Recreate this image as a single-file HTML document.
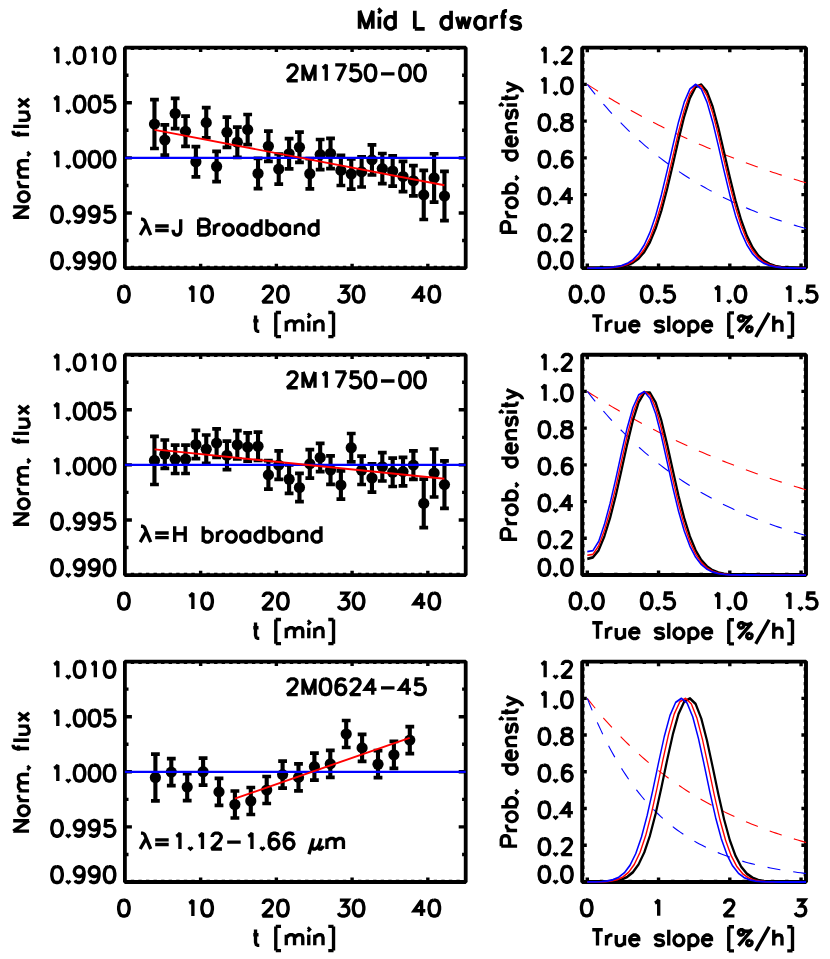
<!DOCTYPE html>
<html lang="en">
<head>
<meta charset="utf-8">
<title>Mid L dwarfs</title>
<style>
html,body{margin:0;padding:0;background:#fff;}
body{font-family:"Liberation Sans",sans-serif;width:830px;height:959px;overflow:hidden;}
svg{display:block;}
</style>
</head>
<body>
<svg width="830" height="959" viewBox="0 0 830 959" role="img" aria-label="Mid L dwarfs: normalized flux vs time light curves and slope probability densities">
<rect width="830" height="959" fill="#fff"/>
<path aria-label="Mid L dwarfs" d="M359.6 10.74 L359.6 28.8 M359.6 10.74 L366.19 28.8 M372.78 10.74 L366.19 28.8 M372.78 10.74 L372.78 28.8 M378.55 10.74 L379.37 11.6 L380.2 10.74 L379.37 9.88 L378.55 10.74 M379.37 16.76 L379.37 28.8 M395.03 10.74 L395.03 28.8 M395.03 19.34 L393.38 17.62 L391.73 16.76 L389.26 16.76 L387.61 17.62 L385.96 19.34 L385.14 21.92 L385.14 23.64 L385.96 26.22 L387.61 27.94 L389.26 28.8 L391.73 28.8 L393.38 27.94 L395.03 26.22 M414.8 10.74 L414.8 28.8 M414.8 28.8 L424.69 28.8 M451.06 10.74 L451.06 28.8 M451.06 19.34 L449.41 17.62 L447.76 16.76 L445.29 16.76 L443.64 17.62 L442 19.34 L441.17 21.92 L441.17 23.64 L442 26.22 L443.64 27.94 L445.29 28.8 L447.76 28.8 L449.41 27.94 L451.06 26.22 M456.83 16.76 L460.12 28.8 M463.42 16.76 L460.12 28.8 M463.42 16.76 L466.72 28.8 M470.01 16.76 L466.72 28.8 M484.84 16.76 L484.84 28.8 M484.84 19.34 L483.2 17.62 L481.55 16.76 L479.08 16.76 L477.43 17.62 L475.78 19.34 L474.96 21.92 L474.96 23.64 L475.78 26.22 L477.43 27.94 L479.08 28.8 L481.55 28.8 L483.2 27.94 L484.84 26.22 M491.44 16.76 L491.44 28.8 M491.44 21.92 L492.26 19.34 L493.91 17.62 L495.56 16.76 L498.03 16.76 M507.09 10.74 L505.44 10.74 L503.8 11.6 L502.97 14.18 L502.97 28.8 M500.5 16.76 L506.27 16.76 M520.28 19.34 L519.45 17.62 L516.98 16.76 L514.51 16.76 L512.04 17.62 L511.21 19.34 L512.04 21.06 L513.68 21.92 L517.8 22.78 L519.45 23.64 L520.28 25.36 L520.28 26.22 L519.45 27.94 L516.98 28.8 L514.51 28.8 L512.04 27.94 L511.21 26.22" fill="none" stroke="#000" stroke-width="3.7" stroke-linecap="butt" stroke-linejoin="miter" stroke-miterlimit="2.5"/>
<g>
<rect x="124.9" y="47.65" width="340.8" height="220.45" fill="none" stroke="#000" stroke-width="3.8" stroke-linejoin="bevel"/>
<path d="M200.63 268.1v-4.4 M200.63 47.65v4.4 M276.37 268.1v-4.4 M276.37 47.65v4.4 M352.1 268.1v-4.4 M352.1 47.65v4.4 M427.83 268.1v-4.4 M427.83 47.65v4.4 M132.47 268.1v-2.35 M132.47 47.65v2.35 M140.05 268.1v-2.35 M140.05 47.65v2.35 M147.62 268.1v-2.35 M147.62 47.65v2.35 M155.19 268.1v-2.35 M155.19 47.65v2.35 M162.77 268.1v-2.35 M162.77 47.65v2.35 M170.34 268.1v-2.35 M170.34 47.65v2.35 M177.91 268.1v-2.35 M177.91 47.65v2.35 M185.49 268.1v-2.35 M185.49 47.65v2.35 M193.06 268.1v-2.35 M193.06 47.65v2.35 M208.21 268.1v-2.35 M208.21 47.65v2.35 M215.78 268.1v-2.35 M215.78 47.65v2.35 M223.35 268.1v-2.35 M223.35 47.65v2.35 M230.93 268.1v-2.35 M230.93 47.65v2.35 M238.5 268.1v-2.35 M238.5 47.65v2.35 M246.07 268.1v-2.35 M246.07 47.65v2.35 M253.65 268.1v-2.35 M253.65 47.65v2.35 M261.22 268.1v-2.35 M261.22 47.65v2.35 M268.79 268.1v-2.35 M268.79 47.65v2.35 M283.94 268.1v-2.35 M283.94 47.65v2.35 M291.51 268.1v-2.35 M291.51 47.65v2.35 M299.09 268.1v-2.35 M299.09 47.65v2.35 M306.66 268.1v-2.35 M306.66 47.65v2.35 M314.23 268.1v-2.35 M314.23 47.65v2.35 M321.81 268.1v-2.35 M321.81 47.65v2.35 M329.38 268.1v-2.35 M329.38 47.65v2.35 M336.95 268.1v-2.35 M336.95 47.65v2.35 M344.53 268.1v-2.35 M344.53 47.65v2.35 M359.67 268.1v-2.35 M359.67 47.65v2.35 M367.25 268.1v-2.35 M367.25 47.65v2.35 M374.82 268.1v-2.35 M374.82 47.65v2.35 M382.39 268.1v-2.35 M382.39 47.65v2.35 M389.97 268.1v-2.35 M389.97 47.65v2.35 M397.54 268.1v-2.35 M397.54 47.65v2.35 M405.11 268.1v-2.35 M405.11 47.65v2.35 M412.69 268.1v-2.35 M412.69 47.65v2.35 M420.26 268.1v-2.35 M420.26 47.65v2.35 M435.41 268.1v-2.35 M435.41 47.65v2.35 M442.98 268.1v-2.35 M442.98 47.65v2.35 M450.55 268.1v-2.35 M450.55 47.65v2.35 M458.13 268.1v-2.35 M458.13 47.65v2.35 M124.9 102.76h7 M465.7 102.76h-7 M124.9 157.88h7 M465.7 157.88h-7 M124.9 212.99h7 M465.7 212.99h-7 M124.9 75.21h3.6 M465.7 75.21h-3.6 M124.9 130.32h3.6 M465.7 130.32h-3.6 M124.9 185.43h3.6 M465.7 185.43h-3.6 M124.9 240.54h3.6 M465.7 240.54h-3.6" stroke="#000" stroke-width="3.4" fill="none"/>
<path d="M154.46 99.7V148.5 M164.82 124.9V155.1 M175.17 98.4V128.6 M185.53 116.2V146.4 M195.89 146.6V176.8 M206.25 107.55V137.75 M216.6 151.35V181.55 M226.96 117.2V147.4 M237.32 127.1V157.3 M247.67 114.5V144.7 M258.03 158.4V188.6 M268.39 131.2V161.4 M278.74 154V184.2 M289.1 138.7V168.9 M299.46 132.2V162.4 M309.81 158.6V188.8 M320.17 139.5V169.7 M330.53 138.4V168.6 M340.89 155.3V185.5 M351.24 158.9V189.1 M361.6 156.8V187 M371.96 144.8V175 M382.31 153.5V183.7 M392.67 155.9V186.1 M403.03 161.4V191.6 M413.38 165.7V195.9 M423.74 170.3V219.5 M434.1 153.75V202.15 M444.46 171.4V220.6" stroke="#000" stroke-width="4.1" fill="none"/>
<path d="M150.06 99.7h8.8 M150.06 148.5h8.8 M160.42 124.9h8.8 M160.42 155.1h8.8 M170.77 98.4h8.8 M170.77 128.6h8.8 M181.13 116.2h8.8 M181.13 146.4h8.8 M191.49 146.6h8.8 M191.49 176.8h8.8 M201.84 107.55h8.8 M201.84 137.75h8.8 M212.2 151.35h8.8 M212.2 181.55h8.8 M222.56 117.2h8.8 M222.56 147.4h8.8 M232.92 127.1h8.8 M232.92 157.3h8.8 M243.27 114.5h8.8 M243.27 144.7h8.8 M253.63 158.4h8.8 M253.63 188.6h8.8 M263.99 131.2h8.8 M263.99 161.4h8.8 M274.34 154h8.8 M274.34 184.2h8.8 M284.7 138.7h8.8 M284.7 168.9h8.8 M295.06 132.2h8.8 M295.06 162.4h8.8 M305.42 158.6h8.8 M305.42 188.8h8.8 M315.77 139.5h8.8 M315.77 169.7h8.8 M326.13 138.4h8.8 M326.13 168.6h8.8 M336.49 155.3h8.8 M336.49 185.5h8.8 M346.84 158.9h8.8 M346.84 189.1h8.8 M357.2 156.8h8.8 M357.2 187h8.8 M367.56 144.8h8.8 M367.56 175h8.8 M377.91 153.5h8.8 M377.91 183.7h8.8 M388.27 155.9h8.8 M388.27 186.1h8.8 M398.63 161.4h8.8 M398.63 191.6h8.8 M408.99 165.7h8.8 M408.99 195.9h8.8 M419.34 170.3h8.8 M419.34 219.5h8.8 M429.7 153.75h8.8 M429.7 202.15h8.8 M440.06 171.4h8.8 M440.06 220.6h8.8" stroke="#000" stroke-width="3.7" fill="none"/>
<circle cx="154.46" cy="124.1" r="5.6"/>
<circle cx="164.82" cy="140" r="5.6"/>
<circle cx="175.17" cy="113.5" r="5.6"/>
<circle cx="185.53" cy="131.3" r="5.6"/>
<circle cx="195.89" cy="161.7" r="5.6"/>
<circle cx="206.25" cy="122.65" r="5.6"/>
<circle cx="216.6" cy="166.45" r="5.6"/>
<circle cx="226.96" cy="132.3" r="5.6"/>
<circle cx="237.32" cy="142.2" r="5.6"/>
<circle cx="247.67" cy="129.6" r="5.6"/>
<circle cx="258.03" cy="173.5" r="5.6"/>
<circle cx="268.39" cy="146.3" r="5.6"/>
<circle cx="278.74" cy="169.1" r="5.6"/>
<circle cx="289.1" cy="153.8" r="5.6"/>
<circle cx="299.46" cy="147.3" r="5.6"/>
<circle cx="309.81" cy="173.7" r="5.6"/>
<circle cx="320.17" cy="154.6" r="5.6"/>
<circle cx="330.53" cy="153.5" r="5.6"/>
<circle cx="340.89" cy="170.4" r="5.6"/>
<circle cx="351.24" cy="174" r="5.6"/>
<circle cx="361.6" cy="171.9" r="5.6"/>
<circle cx="371.96" cy="159.9" r="5.6"/>
<circle cx="382.31" cy="168.6" r="5.6"/>
<circle cx="392.67" cy="171" r="5.6"/>
<circle cx="403.03" cy="176.5" r="5.6"/>
<circle cx="413.38" cy="180.8" r="5.6"/>
<circle cx="423.74" cy="194.9" r="5.6"/>
<circle cx="434.1" cy="177.95" r="5.6"/>
<circle cx="444.46" cy="196" r="5.6"/>
<path d="M124.9 157.88H465.7" stroke="#0000ff" stroke-width="2.2" fill="none"/>
<path d="M154.5 129.9L444.4 185.2" stroke="#ff0000" stroke-width="1.9" fill="none"/>
<path aria-label="1.010" d="M54.05 50.51 L55.55 49.76 L57.8 47.49 L57.8 63.35 M68.3 61.84 L67.55 62.59 L68.3 63.35 L69.05 62.59 L68.3 61.84 M78.8 47.49 L76.55 48.25 L75.05 50.51 L74.3 54.29 L74.3 56.55 L75.05 60.33 L76.55 62.59 L78.8 63.35 L80.3 63.35 L82.55 62.59 L84.05 60.33 L84.8 56.55 L84.8 54.29 L84.05 50.51 L82.55 48.25 L80.3 47.49 L78.8 47.49 M91.55 50.51 L93.05 49.76 L95.3 47.49 L95.3 63.35 M108.8 47.49 L106.55 48.25 L105.05 50.51 L104.3 54.29 L104.3 56.55 L105.05 60.33 L106.55 62.59 L108.8 63.35 L110.3 63.35 L112.55 62.59 L114.05 60.33 L114.8 56.55 L114.8 54.29 L114.05 50.51 L112.55 48.25 L110.3 47.49 L108.8 47.49" fill="none" stroke="#000" stroke-width="3.35" stroke-linecap="butt" stroke-linejoin="miter" stroke-miterlimit="2.5"/>
<path aria-label="1.005" d="M54.05 99.23 L55.55 98.47 L57.8 96.21 L57.8 112.06 M68.3 110.55 L67.55 111.31 L68.3 112.06 L69.05 111.31 L68.3 110.55 M78.8 96.21 L76.55 96.96 L75.05 99.23 L74.3 103 L74.3 105.27 L75.05 109.04 L76.55 111.31 L78.8 112.06 L80.3 112.06 L82.55 111.31 L84.05 109.04 L84.8 105.27 L84.8 103 L84.05 99.23 L82.55 96.96 L80.3 96.21 L78.8 96.21 M93.8 96.21 L91.55 96.96 L90.05 99.23 L89.3 103 L89.3 105.27 L90.05 109.04 L91.55 111.31 L93.8 112.06 L95.3 112.06 L97.55 111.31 L99.05 109.04 L99.8 105.27 L99.8 103 L99.05 99.23 L97.55 96.96 L95.3 96.21 L93.8 96.21 M113.3 96.21 L105.8 96.21 L105.05 103 L105.8 102.25 L108.05 101.49 L110.3 101.49 L112.55 102.25 L114.05 103.76 L114.8 106.02 L114.8 107.53 L114.05 109.8 L112.55 111.31 L110.3 112.06 L108.05 112.06 L105.8 111.31 L105.05 110.55 L104.3 109.04" fill="none" stroke="#000" stroke-width="3.35" stroke-linecap="butt" stroke-linejoin="miter" stroke-miterlimit="2.5"/>
<path aria-label="1.000" d="M54.05 154.34 L55.55 153.59 L57.8 151.32 L57.8 167.18 M68.3 165.67 L67.55 166.42 L68.3 167.18 L69.05 166.42 L68.3 165.67 M78.8 151.32 L76.55 152.08 L75.05 154.34 L74.3 158.12 L74.3 160.38 L75.05 164.16 L76.55 166.42 L78.8 167.18 L80.3 167.18 L82.55 166.42 L84.05 164.16 L84.8 160.38 L84.8 158.12 L84.05 154.34 L82.55 152.08 L80.3 151.32 L78.8 151.32 M93.8 151.32 L91.55 152.08 L90.05 154.34 L89.3 158.12 L89.3 160.38 L90.05 164.16 L91.55 166.42 L93.8 167.18 L95.3 167.18 L97.55 166.42 L99.05 164.16 L99.8 160.38 L99.8 158.12 L99.05 154.34 L97.55 152.08 L95.3 151.32 L93.8 151.32 M108.8 151.32 L106.55 152.08 L105.05 154.34 L104.3 158.12 L104.3 160.38 L105.05 164.16 L106.55 166.42 L108.8 167.18 L110.3 167.18 L112.55 166.42 L114.05 164.16 L114.8 160.38 L114.8 158.12 L114.05 154.34 L112.55 152.08 L110.3 151.32 L108.8 151.32" fill="none" stroke="#000" stroke-width="3.35" stroke-linecap="butt" stroke-linejoin="miter" stroke-miterlimit="2.5"/>
<path aria-label="0.995" d="M56.3 206.43 L54.05 207.19 L52.55 209.45 L51.8 213.23 L51.8 215.49 L52.55 219.27 L54.05 221.53 L56.3 222.29 L57.8 222.29 L60.05 221.53 L61.55 219.27 L62.3 215.49 L62.3 213.23 L61.55 209.45 L60.05 207.19 L57.8 206.43 L56.3 206.43 M68.3 220.78 L67.55 221.53 L68.3 222.29 L69.05 221.53 L68.3 220.78 M84.05 211.72 L83.3 213.98 L81.8 215.49 L79.55 216.25 L78.8 216.25 L76.55 215.49 L75.05 213.98 L74.3 211.72 L74.3 210.96 L75.05 208.7 L76.55 207.19 L78.8 206.43 L79.55 206.43 L81.8 207.19 L83.3 208.7 L84.05 211.72 L84.05 215.49 L83.3 219.27 L81.8 221.53 L79.55 222.29 L78.05 222.29 L75.8 221.53 L75.05 220.02 M99.05 211.72 L98.3 213.98 L96.8 215.49 L94.55 216.25 L93.8 216.25 L91.55 215.49 L90.05 213.98 L89.3 211.72 L89.3 210.96 L90.05 208.7 L91.55 207.19 L93.8 206.43 L94.55 206.43 L96.8 207.19 L98.3 208.7 L99.05 211.72 L99.05 215.49 L98.3 219.27 L96.8 221.53 L94.55 222.29 L93.05 222.29 L90.8 221.53 L90.05 220.02 M113.3 206.43 L105.8 206.43 L105.05 213.23 L105.8 212.47 L108.05 211.72 L110.3 211.72 L112.55 212.47 L114.05 213.98 L114.8 216.25 L114.8 217.76 L114.05 220.02 L112.55 221.53 L110.3 222.29 L108.05 222.29 L105.8 221.53 L105.05 220.78 L104.3 219.27" fill="none" stroke="#000" stroke-width="3.35" stroke-linecap="butt" stroke-linejoin="miter" stroke-miterlimit="2.5"/>
<path aria-label="0.990" d="M56.3 252.75 L54.05 253.5 L52.55 255.77 L51.8 259.54 L51.8 261.81 L52.55 265.58 L54.05 267.85 L56.3 268.6 L57.8 268.6 L60.05 267.85 L61.55 265.58 L62.3 261.81 L62.3 259.54 L61.55 255.77 L60.05 253.5 L57.8 252.75 L56.3 252.75 M68.3 267.09 L67.55 267.85 L68.3 268.6 L69.05 267.85 L68.3 267.09 M84.05 258.03 L83.3 260.3 L81.8 261.81 L79.55 262.56 L78.8 262.56 L76.55 261.81 L75.05 260.3 L74.3 258.03 L74.3 257.28 L75.05 255.01 L76.55 253.5 L78.8 252.75 L79.55 252.75 L81.8 253.5 L83.3 255.01 L84.05 258.03 L84.05 261.81 L83.3 265.58 L81.8 267.85 L79.55 268.6 L78.05 268.6 L75.8 267.85 L75.05 266.34 M99.05 258.03 L98.3 260.3 L96.8 261.81 L94.55 262.56 L93.8 262.56 L91.55 261.81 L90.05 260.3 L89.3 258.03 L89.3 257.28 L90.05 255.01 L91.55 253.5 L93.8 252.75 L94.55 252.75 L96.8 253.5 L98.3 255.01 L99.05 258.03 L99.05 261.81 L98.3 265.58 L96.8 267.85 L94.55 268.6 L93.05 268.6 L90.8 267.85 L90.05 266.34 M108.8 252.75 L106.55 253.5 L105.05 255.77 L104.3 259.54 L104.3 261.81 L105.05 265.58 L106.55 267.85 L108.8 268.6 L110.3 268.6 L112.55 267.85 L114.05 265.58 L114.8 261.81 L114.8 259.54 L114.05 255.77 L112.55 253.5 L110.3 252.75 L108.8 252.75" fill="none" stroke="#000" stroke-width="3.35" stroke-linecap="butt" stroke-linejoin="miter" stroke-miterlimit="2.5"/>
<path aria-label="0" d="M123.15 286.25 L120.9 287 L119.4 289.27 L118.65 293.04 L118.65 295.31 L119.4 299.08 L120.9 301.35 L123.15 302.1 L124.65 302.1 L126.9 301.35 L128.4 299.08 L129.15 295.31 L129.15 293.04 L128.4 289.27 L126.9 287 L124.65 286.25 L123.15 286.25" fill="none" stroke="#000" stroke-width="3.35" stroke-linecap="butt" stroke-linejoin="miter" stroke-miterlimit="2.5"/>
<path aria-label="10" d="M189.13 289.27 L190.63 288.51 L192.88 286.25 L192.88 302.1 M206.38 286.25 L204.13 287 L202.63 289.27 L201.88 293.04 L201.88 295.31 L202.63 299.08 L204.13 301.35 L206.38 302.1 L207.88 302.1 L210.13 301.35 L211.63 299.08 L212.38 295.31 L212.38 293.04 L211.63 289.27 L210.13 287 L207.88 286.25 L206.38 286.25" fill="none" stroke="#000" stroke-width="3.35" stroke-linecap="butt" stroke-linejoin="miter" stroke-miterlimit="2.5"/>
<path aria-label="20" d="M263.37 290.02 L263.37 289.27 L264.12 287.75 L264.87 287 L266.37 286.25 L269.37 286.25 L270.87 287 L271.62 287.75 L272.37 289.27 L272.37 290.78 L271.62 292.29 L270.12 294.55 L262.62 302.1 L273.12 302.1 M282.12 286.25 L279.87 287 L278.37 289.27 L277.62 293.04 L277.62 295.31 L278.37 299.08 L279.87 301.35 L282.12 302.1 L283.62 302.1 L285.87 301.35 L287.37 299.08 L288.12 295.31 L288.12 293.04 L287.37 289.27 L285.87 287 L283.62 286.25 L282.12 286.25" fill="none" stroke="#000" stroke-width="3.35" stroke-linecap="butt" stroke-linejoin="miter" stroke-miterlimit="2.5"/>
<path aria-label="30" d="M339.85 286.25 L348.1 286.25 L343.6 292.29 L345.85 292.29 L347.35 293.04 L348.1 293.8 L348.85 296.06 L348.85 297.57 L348.1 299.84 L346.6 301.35 L344.35 302.1 L342.1 302.1 L339.85 301.35 L339.1 300.59 L338.35 299.08 M357.85 286.25 L355.6 287 L354.1 289.27 L353.35 293.04 L353.35 295.31 L354.1 299.08 L355.6 301.35 L357.85 302.1 L359.35 302.1 L361.6 301.35 L363.1 299.08 L363.85 295.31 L363.85 293.04 L363.1 289.27 L361.6 287 L359.35 286.25 L357.85 286.25" fill="none" stroke="#000" stroke-width="3.35" stroke-linecap="butt" stroke-linejoin="miter" stroke-miterlimit="2.5"/>
<path aria-label="40" d="M421.58 286.25 L414.08 296.81 L425.33 296.81 M421.58 286.25 L421.58 302.1 M433.58 286.25 L431.33 287 L429.83 289.27 L429.08 293.04 L429.08 295.31 L429.83 299.08 L431.33 301.35 L433.58 302.1 L435.08 302.1 L437.33 301.35 L438.83 299.08 L439.58 295.31 L439.58 293.04 L438.83 289.27 L437.33 287 L435.08 286.25 L433.58 286.25" fill="none" stroke="#000" stroke-width="3.35" stroke-linecap="butt" stroke-linejoin="miter" stroke-miterlimit="2.5"/>
<path aria-label="t [min]" d="M255.53 315.55 L255.53 328.38 L256.28 330.65 L257.78 331.4 L259.28 331.4 M253.28 320.83 L258.53 320.83 M275.78 312.53 L275.78 336.69 M275.78 312.53 L281.03 312.53 M275.78 336.69 L281.03 336.69 M286.28 320.83 L286.28 331.4 M286.28 323.85 L288.53 321.59 L290.03 320.83 L292.28 320.83 L293.78 321.59 L294.53 323.85 L294.53 331.4 M294.53 323.85 L296.78 321.59 L298.28 320.83 L300.53 320.83 L302.03 321.59 L302.78 323.85 L302.78 331.4 M308.03 315.55 L308.78 316.3 L309.53 315.55 L308.78 314.79 L308.03 315.55 M308.78 320.83 L308.78 331.4 M314.78 320.83 L314.78 331.4 M314.78 323.85 L317.03 321.59 L318.53 320.83 L320.78 320.83 L322.28 321.59 L323.03 323.85 L323.03 331.4 M333.53 312.53 L333.53 336.69 M328.28 312.53 L333.53 312.53 M328.28 336.69 L333.53 336.69" fill="none" stroke="#000" stroke-width="3.35" stroke-linecap="butt" stroke-linejoin="miter" stroke-miterlimit="2.5"/>
<path aria-label="Norm. flux" d="M13.19 217.23 L29.05 217.23 M13.19 217.23 L29.05 206.8 M13.19 206.8 L29.05 206.8 M18.48 197.86 L19.23 199.35 L20.74 200.84 L23.01 201.59 L24.52 201.59 L26.78 200.84 L28.29 199.35 L29.05 197.86 L29.05 195.62 L28.29 194.13 L26.78 192.65 L24.52 191.9 L23.01 191.9 L20.74 192.65 L19.23 194.13 L18.48 195.62 L18.48 197.86 M18.48 186.69 L29.05 186.69 M23.01 186.69 L20.75 185.94 L19.23 184.45 L18.48 182.96 L18.48 180.72 M18.48 177 L29.05 177 M21.5 177 L19.23 174.76 L18.48 173.28 L18.48 171.04 L19.23 169.55 L21.5 168.81 L29.05 168.81 M21.5 168.81 L19.23 166.57 L18.48 165.08 L18.48 162.84 L19.23 161.35 L21.5 160.61 L29.05 160.61 M27.54 153.91 L28.3 154.65 L29.05 153.91 L28.3 153.16 L27.54 153.91 M13.2 130.81 L13.2 132.3 L13.95 133.79 L16.21 134.53 L29.05 134.53 M18.48 136.77 L18.48 131.56 M13.2 126.34 L29.05 126.34 M18.48 120.38 L26.03 120.38 L28.3 119.63 L29.05 118.15 L29.05 115.91 L28.3 114.42 L26.03 112.19 M18.48 112.19 L29.05 112.19 M18.48 106.97 L29.05 98.78 M18.48 98.78 L29.05 106.97" fill="none" stroke="#000" stroke-width="3.35" stroke-linecap="butt" stroke-linejoin="miter" stroke-miterlimit="2.5"/>
<path aria-label="2M1750−00" d="M288 68.64 L288 67.88 L288.75 66.38 L289.5 65.62 L291 64.86 L294 64.86 L295.5 65.62 L296.25 66.38 L297 67.88 L297 69.39 L296.25 70.91 L294.75 73.17 L287.25 80.72 L297.75 80.72 M303 64.86 L303 80.72 M303 64.86 L309 80.72 M315 64.86 L309 80.72 M315 64.86 L315 80.72 M322.5 67.88 L324 67.13 L326.25 64.86 L326.25 80.72 M345.75 64.86 L338.25 80.72 M335.25 64.86 L345.75 64.86 M359.25 64.86 L351.75 64.86 L351 71.66 L351.75 70.91 L354 70.15 L356.25 70.15 L358.5 70.91 L360 72.41 L360.75 74.68 L360.75 76.19 L360 78.45 L358.5 79.97 L356.25 80.72 L354 80.72 L351.75 79.97 L351 79.21 L350.25 77.7 M369.75 64.86 L367.5 65.62 L366 67.88 L365.25 71.66 L365.25 73.92 L366 77.7 L367.5 79.97 L369.75 80.72 L371.25 80.72 L373.5 79.97 L375 77.7 L375.75 73.92 L375.75 71.66 L375 67.88 L373.5 65.62 L371.25 64.86 L369.75 64.86 M381 73.92 L394.5 73.92 M404.25 64.86 L402 65.62 L400.5 67.88 L399.75 71.66 L399.75 73.92 L400.5 77.7 L402 79.97 L404.25 80.72 L405.75 80.72 L408 79.97 L409.5 77.7 L410.25 73.92 L410.25 71.66 L409.5 67.88 L408 65.62 L405.75 64.86 L404.25 64.86 M419.25 64.86 L417 65.62 L415.5 67.88 L414.75 71.66 L414.75 73.92 L415.5 77.7 L417 79.97 L419.25 80.72 L420.75 80.72 L423 79.97 L424.5 77.7 L425.25 73.92 L425.25 71.66 L424.5 67.88 L423 65.62 L420.75 64.86 L419.25 64.86" fill="none" stroke="#000" stroke-width="3.35" stroke-linecap="butt" stroke-linejoin="miter" stroke-miterlimit="2.5"/>
<path aria-label="λ=J Broadband" d="M140.95 219.18 L142.45 219.18 L143.95 219.93 L144.7 220.69 L150.7 235.03 M146.2 224.46 L140.2 235.03 M155.2 225.97 L168.7 225.97 M155.2 230.5 L168.7 230.5 M180.7 219.18 L180.7 231.25 L179.95 233.52 L179.2 234.28 L177.7 235.03 L176.2 235.03 L174.7 234.28 L173.95 233.52 L173.2 231.25 L173.2 229.75 M198.7 219.18 L198.7 235.03 M198.7 219.18 L205.45 219.18 L207.7 219.93 L208.45 220.69 L209.2 222.19 L209.2 223.71 L208.45 225.22 L207.7 225.97 L205.45 226.72 M198.7 226.72 L205.45 226.72 L207.7 227.48 L208.45 228.24 L209.2 229.75 L209.2 232.01 L208.45 233.52 L207.7 234.28 L205.45 235.03 L198.7 235.03 M214.45 224.46 L214.45 235.03 M214.45 228.99 L215.2 226.72 L216.7 225.22 L218.2 224.46 L220.45 224.46 M227.2 224.46 L225.7 225.22 L224.2 226.72 L223.45 228.99 L223.45 230.5 L224.2 232.77 L225.7 234.28 L227.2 235.03 L229.45 235.03 L230.95 234.28 L232.45 232.77 L233.2 230.5 L233.2 228.99 L232.45 226.72 L230.95 225.22 L229.45 224.46 L227.2 224.46 M246.7 224.46 L246.7 235.03 M246.7 226.72 L245.2 225.22 L243.7 224.46 L241.45 224.46 L239.95 225.22 L238.45 226.72 L237.7 228.99 L237.7 230.5 L238.45 232.77 L239.95 234.28 L241.45 235.03 L243.7 235.03 L245.2 234.28 L246.7 232.77 M260.95 219.18 L260.95 235.03 M260.95 226.72 L259.45 225.22 L257.95 224.46 L255.7 224.46 L254.2 225.22 L252.7 226.72 L251.95 228.99 L251.95 230.5 L252.7 232.77 L254.2 234.28 L255.7 235.03 L257.95 235.03 L259.45 234.28 L260.95 232.77 M266.95 219.18 L266.95 235.03 M266.95 226.72 L268.45 225.22 L269.95 224.46 L272.2 224.46 L273.7 225.22 L275.2 226.72 L275.95 228.99 L275.95 230.5 L275.2 232.77 L273.7 234.28 L272.2 235.03 L269.95 235.03 L268.45 234.28 L266.95 232.77 M289.45 224.46 L289.45 235.03 M289.45 226.72 L287.95 225.22 L286.45 224.46 L284.2 224.46 L282.7 225.22 L281.2 226.72 L280.45 228.99 L280.45 230.5 L281.2 232.77 L282.7 234.28 L284.2 235.03 L286.45 235.03 L287.95 234.28 L289.45 232.77 M295.45 224.46 L295.45 235.03 M295.45 227.48 L297.7 225.22 L299.2 224.46 L301.45 224.46 L302.95 225.22 L303.7 227.48 L303.7 235.03 M317.95 219.18 L317.95 235.03 M317.95 226.72 L316.45 225.22 L314.95 224.46 L312.7 224.46 L311.2 225.22 L309.7 226.72 L308.95 228.99 L308.95 230.5 L309.7 232.77 L311.2 234.28 L312.7 235.03 L314.95 235.03 L316.45 234.28 L317.95 232.77" fill="none" stroke="#000" stroke-width="3.35" stroke-linecap="butt" stroke-linejoin="miter" stroke-miterlimit="2.5"/>
</g>
<g>
<rect x="124.9" y="354.7" width="340.8" height="220.35" fill="none" stroke="#000" stroke-width="3.8" stroke-linejoin="bevel"/>
<path d="M200.63 575.05v-4.4 M200.63 354.7v4.4 M276.37 575.05v-4.4 M276.37 354.7v4.4 M352.1 575.05v-4.4 M352.1 354.7v4.4 M427.83 575.05v-4.4 M427.83 354.7v4.4 M132.47 575.05v-2.35 M132.47 354.7v2.35 M140.05 575.05v-2.35 M140.05 354.7v2.35 M147.62 575.05v-2.35 M147.62 354.7v2.35 M155.19 575.05v-2.35 M155.19 354.7v2.35 M162.77 575.05v-2.35 M162.77 354.7v2.35 M170.34 575.05v-2.35 M170.34 354.7v2.35 M177.91 575.05v-2.35 M177.91 354.7v2.35 M185.49 575.05v-2.35 M185.49 354.7v2.35 M193.06 575.05v-2.35 M193.06 354.7v2.35 M208.21 575.05v-2.35 M208.21 354.7v2.35 M215.78 575.05v-2.35 M215.78 354.7v2.35 M223.35 575.05v-2.35 M223.35 354.7v2.35 M230.93 575.05v-2.35 M230.93 354.7v2.35 M238.5 575.05v-2.35 M238.5 354.7v2.35 M246.07 575.05v-2.35 M246.07 354.7v2.35 M253.65 575.05v-2.35 M253.65 354.7v2.35 M261.22 575.05v-2.35 M261.22 354.7v2.35 M268.79 575.05v-2.35 M268.79 354.7v2.35 M283.94 575.05v-2.35 M283.94 354.7v2.35 M291.51 575.05v-2.35 M291.51 354.7v2.35 M299.09 575.05v-2.35 M299.09 354.7v2.35 M306.66 575.05v-2.35 M306.66 354.7v2.35 M314.23 575.05v-2.35 M314.23 354.7v2.35 M321.81 575.05v-2.35 M321.81 354.7v2.35 M329.38 575.05v-2.35 M329.38 354.7v2.35 M336.95 575.05v-2.35 M336.95 354.7v2.35 M344.53 575.05v-2.35 M344.53 354.7v2.35 M359.67 575.05v-2.35 M359.67 354.7v2.35 M367.25 575.05v-2.35 M367.25 354.7v2.35 M374.82 575.05v-2.35 M374.82 354.7v2.35 M382.39 575.05v-2.35 M382.39 354.7v2.35 M389.97 575.05v-2.35 M389.97 354.7v2.35 M397.54 575.05v-2.35 M397.54 354.7v2.35 M405.11 575.05v-2.35 M405.11 354.7v2.35 M412.69 575.05v-2.35 M412.69 354.7v2.35 M420.26 575.05v-2.35 M420.26 354.7v2.35 M435.41 575.05v-2.35 M435.41 354.7v2.35 M442.98 575.05v-2.35 M442.98 354.7v2.35 M450.55 575.05v-2.35 M450.55 354.7v2.35 M458.13 575.05v-2.35 M458.13 354.7v2.35 M124.9 409.79h7 M465.7 409.79h-7 M124.9 464.88h7 M465.7 464.88h-7 M124.9 519.96h7 M465.7 519.96h-7 M124.9 382.24h3.6 M465.7 382.24h-3.6 M124.9 437.33h3.6 M465.7 437.33h-3.6 M124.9 492.42h3.6 M465.7 492.42h-3.6 M124.9 547.51h3.6 M465.7 547.51h-3.6" stroke="#000" stroke-width="3.4" fill="none"/>
<path d="M154.46 436.3V484.5 M164.82 440V468.4 M175.17 445.1V473.5 M185.53 445.1V473.5 M195.89 430.3V458.7 M206.25 435V463.4 M216.6 428.9V457.3 M226.96 441.2V469.6 M237.32 430.6V459 M247.67 432.8V461.2 M258.03 432.1V460.5 M268.39 460.7V489.1 M278.74 450.9V479.3 M289.1 465V493.4 M299.46 473.3V501.7 M309.81 449.7V478.1 M320.17 443.3V471.7 M330.53 455.9V484.3 M340.89 470.8V499.2 M351.24 433.5V461.9 M361.6 456.1V484.5 M371.96 463.8V492.2 M382.31 452.6V481 M392.67 458.1V486.5 M403.03 457.4V485.8 M413.38 450.9V479.3 M423.74 479.2V527.6 M434.1 449V497 M444.46 460.8V508.4" stroke="#000" stroke-width="4.1" fill="none"/>
<path d="M150.06 436.3h8.8 M150.06 484.5h8.8 M160.42 440h8.8 M160.42 468.4h8.8 M170.77 445.1h8.8 M170.77 473.5h8.8 M181.13 445.1h8.8 M181.13 473.5h8.8 M191.49 430.3h8.8 M191.49 458.7h8.8 M201.84 435h8.8 M201.84 463.4h8.8 M212.2 428.9h8.8 M212.2 457.3h8.8 M222.56 441.2h8.8 M222.56 469.6h8.8 M232.92 430.6h8.8 M232.92 459h8.8 M243.27 432.8h8.8 M243.27 461.2h8.8 M253.63 432.1h8.8 M253.63 460.5h8.8 M263.99 460.7h8.8 M263.99 489.1h8.8 M274.34 450.9h8.8 M274.34 479.3h8.8 M284.7 465h8.8 M284.7 493.4h8.8 M295.06 473.3h8.8 M295.06 501.7h8.8 M305.42 449.7h8.8 M305.42 478.1h8.8 M315.77 443.3h8.8 M315.77 471.7h8.8 M326.13 455.9h8.8 M326.13 484.3h8.8 M336.49 470.8h8.8 M336.49 499.2h8.8 M346.84 433.5h8.8 M346.84 461.9h8.8 M357.2 456.1h8.8 M357.2 484.5h8.8 M367.56 463.8h8.8 M367.56 492.2h8.8 M377.91 452.6h8.8 M377.91 481h8.8 M388.27 458.1h8.8 M388.27 486.5h8.8 M398.63 457.4h8.8 M398.63 485.8h8.8 M408.99 450.9h8.8 M408.99 479.3h8.8 M419.34 479.2h8.8 M419.34 527.6h8.8 M429.7 449h8.8 M429.7 497h8.8 M440.06 460.8h8.8 M440.06 508.4h8.8" stroke="#000" stroke-width="3.7" fill="none"/>
<circle cx="154.46" cy="460.4" r="5.6"/>
<circle cx="164.82" cy="454.2" r="5.6"/>
<circle cx="175.17" cy="459.3" r="5.6"/>
<circle cx="185.53" cy="459.3" r="5.6"/>
<circle cx="195.89" cy="444.5" r="5.6"/>
<circle cx="206.25" cy="449.2" r="5.6"/>
<circle cx="216.6" cy="443.1" r="5.6"/>
<circle cx="226.96" cy="455.4" r="5.6"/>
<circle cx="237.32" cy="444.8" r="5.6"/>
<circle cx="247.67" cy="447" r="5.6"/>
<circle cx="258.03" cy="446.3" r="5.6"/>
<circle cx="268.39" cy="474.9" r="5.6"/>
<circle cx="278.74" cy="465.1" r="5.6"/>
<circle cx="289.1" cy="479.2" r="5.6"/>
<circle cx="299.46" cy="487.5" r="5.6"/>
<circle cx="309.81" cy="463.9" r="5.6"/>
<circle cx="320.17" cy="457.5" r="5.6"/>
<circle cx="330.53" cy="470.1" r="5.6"/>
<circle cx="340.89" cy="485" r="5.6"/>
<circle cx="351.24" cy="447.7" r="5.6"/>
<circle cx="361.6" cy="470.3" r="5.6"/>
<circle cx="371.96" cy="478" r="5.6"/>
<circle cx="382.31" cy="466.8" r="5.6"/>
<circle cx="392.67" cy="472.3" r="5.6"/>
<circle cx="403.03" cy="471.6" r="5.6"/>
<circle cx="413.38" cy="465.1" r="5.6"/>
<circle cx="423.74" cy="503.4" r="5.6"/>
<circle cx="434.1" cy="473" r="5.6"/>
<circle cx="444.46" cy="484.6" r="5.6"/>
<path d="M124.9 464.88H465.7" stroke="#0000ff" stroke-width="2.2" fill="none"/>
<path d="M154.5 449.4L444.4 478.8" stroke="#ff0000" stroke-width="1.9" fill="none"/>
<path aria-label="1.010" d="M54.05 357.56 L55.55 356.81 L57.8 354.54 L57.8 370.4 M68.3 368.89 L67.55 369.64 L68.3 370.4 L69.05 369.64 L68.3 368.89 M78.8 354.54 L76.55 355.3 L75.05 357.56 L74.3 361.34 L74.3 363.6 L75.05 367.38 L76.55 369.64 L78.8 370.4 L80.3 370.4 L82.55 369.64 L84.05 367.38 L84.8 363.6 L84.8 361.34 L84.05 357.56 L82.55 355.3 L80.3 354.54 L78.8 354.54 M91.55 357.56 L93.05 356.81 L95.3 354.54 L95.3 370.4 M108.8 354.54 L106.55 355.3 L105.05 357.56 L104.3 361.34 L104.3 363.6 L105.05 367.38 L106.55 369.64 L108.8 370.4 L110.3 370.4 L112.55 369.64 L114.05 367.38 L114.8 363.6 L114.8 361.34 L114.05 357.56 L112.55 355.3 L110.3 354.54 L108.8 354.54" fill="none" stroke="#000" stroke-width="3.35" stroke-linecap="butt" stroke-linejoin="miter" stroke-miterlimit="2.5"/>
<path aria-label="1.005" d="M54.05 406.25 L55.55 405.5 L57.8 403.23 L57.8 419.09 M68.3 417.58 L67.55 418.33 L68.3 419.09 L69.05 418.33 L68.3 417.58 M78.8 403.23 L76.55 403.99 L75.05 406.25 L74.3 410.03 L74.3 412.29 L75.05 416.07 L76.55 418.33 L78.8 419.09 L80.3 419.09 L82.55 418.33 L84.05 416.07 L84.8 412.29 L84.8 410.03 L84.05 406.25 L82.55 403.99 L80.3 403.23 L78.8 403.23 M93.8 403.23 L91.55 403.99 L90.05 406.25 L89.3 410.03 L89.3 412.29 L90.05 416.07 L91.55 418.33 L93.8 419.09 L95.3 419.09 L97.55 418.33 L99.05 416.07 L99.8 412.29 L99.8 410.03 L99.05 406.25 L97.55 403.99 L95.3 403.23 L93.8 403.23 M113.3 403.23 L105.8 403.23 L105.05 410.03 L105.8 409.27 L108.05 408.52 L110.3 408.52 L112.55 409.27 L114.05 410.78 L114.8 413.05 L114.8 414.56 L114.05 416.82 L112.55 418.33 L110.3 419.09 L108.05 419.09 L105.8 418.33 L105.05 417.58 L104.3 416.07" fill="none" stroke="#000" stroke-width="3.35" stroke-linecap="butt" stroke-linejoin="miter" stroke-miterlimit="2.5"/>
<path aria-label="1.000" d="M54.05 461.34 L55.55 460.59 L57.8 458.32 L57.8 474.18 M68.3 472.67 L67.55 473.42 L68.3 474.18 L69.05 473.42 L68.3 472.67 M78.8 458.32 L76.55 459.07 L75.05 461.34 L74.3 465.12 L74.3 467.38 L75.05 471.16 L76.55 473.42 L78.8 474.18 L80.3 474.18 L82.55 473.42 L84.05 471.16 L84.8 467.38 L84.8 465.12 L84.05 461.34 L82.55 459.07 L80.3 458.32 L78.8 458.32 M93.8 458.32 L91.55 459.07 L90.05 461.34 L89.3 465.12 L89.3 467.38 L90.05 471.16 L91.55 473.42 L93.8 474.18 L95.3 474.18 L97.55 473.42 L99.05 471.16 L99.8 467.38 L99.8 465.12 L99.05 461.34 L97.55 459.07 L95.3 458.32 L93.8 458.32 M108.8 458.32 L106.55 459.07 L105.05 461.34 L104.3 465.12 L104.3 467.38 L105.05 471.16 L106.55 473.42 L108.8 474.18 L110.3 474.18 L112.55 473.42 L114.05 471.16 L114.8 467.38 L114.8 465.12 L114.05 461.34 L112.55 459.07 L110.3 458.32 L108.8 458.32" fill="none" stroke="#000" stroke-width="3.35" stroke-linecap="butt" stroke-linejoin="miter" stroke-miterlimit="2.5"/>
<path aria-label="0.995" d="M56.3 513.41 L54.05 514.16 L52.55 516.43 L51.8 520.2 L51.8 522.47 L52.55 526.24 L54.05 528.51 L56.3 529.26 L57.8 529.26 L60.05 528.51 L61.55 526.24 L62.3 522.47 L62.3 520.2 L61.55 516.43 L60.05 514.16 L57.8 513.41 L56.3 513.41 M68.3 527.75 L67.55 528.51 L68.3 529.26 L69.05 528.51 L68.3 527.75 M84.05 518.69 L83.3 520.96 L81.8 522.47 L79.55 523.22 L78.8 523.22 L76.55 522.47 L75.05 520.96 L74.3 518.69 L74.3 517.94 L75.05 515.67 L76.55 514.16 L78.8 513.41 L79.55 513.41 L81.8 514.16 L83.3 515.67 L84.05 518.69 L84.05 522.47 L83.3 526.24 L81.8 528.51 L79.55 529.26 L78.05 529.26 L75.8 528.51 L75.05 527 M99.05 518.69 L98.3 520.96 L96.8 522.47 L94.55 523.22 L93.8 523.22 L91.55 522.47 L90.05 520.96 L89.3 518.69 L89.3 517.94 L90.05 515.67 L91.55 514.16 L93.8 513.41 L94.55 513.41 L96.8 514.16 L98.3 515.67 L99.05 518.69 L99.05 522.47 L98.3 526.24 L96.8 528.51 L94.55 529.26 L93.05 529.26 L90.8 528.51 L90.05 527 M113.3 513.41 L105.8 513.41 L105.05 520.2 L105.8 519.45 L108.05 518.69 L110.3 518.69 L112.55 519.45 L114.05 520.96 L114.8 523.22 L114.8 524.73 L114.05 527 L112.55 528.51 L110.3 529.26 L108.05 529.26 L105.8 528.51 L105.05 527.75 L104.3 526.24" fill="none" stroke="#000" stroke-width="3.35" stroke-linecap="butt" stroke-linejoin="miter" stroke-miterlimit="2.5"/>
<path aria-label="0.990" d="M56.3 559.69 L54.05 560.45 L52.55 562.71 L51.8 566.49 L51.8 568.75 L52.55 572.53 L54.05 574.79 L56.3 575.55 L57.8 575.55 L60.05 574.79 L61.55 572.53 L62.3 568.75 L62.3 566.49 L61.55 562.71 L60.05 560.45 L57.8 559.69 L56.3 559.69 M68.3 574.04 L67.55 574.79 L68.3 575.55 L69.05 574.79 L68.3 574.04 M84.05 564.98 L83.3 567.25 L81.8 568.75 L79.55 569.51 L78.8 569.51 L76.55 568.75 L75.05 567.25 L74.3 564.98 L74.3 564.22 L75.05 561.96 L76.55 560.45 L78.8 559.69 L79.55 559.69 L81.8 560.45 L83.3 561.96 L84.05 564.98 L84.05 568.75 L83.3 572.53 L81.8 574.79 L79.55 575.55 L78.05 575.55 L75.8 574.79 L75.05 573.28 M99.05 564.98 L98.3 567.25 L96.8 568.75 L94.55 569.51 L93.8 569.51 L91.55 568.75 L90.05 567.25 L89.3 564.98 L89.3 564.22 L90.05 561.96 L91.55 560.45 L93.8 559.69 L94.55 559.69 L96.8 560.45 L98.3 561.96 L99.05 564.98 L99.05 568.75 L98.3 572.53 L96.8 574.79 L94.55 575.55 L93.05 575.55 L90.8 574.79 L90.05 573.28 M108.8 559.69 L106.55 560.45 L105.05 562.71 L104.3 566.49 L104.3 568.75 L105.05 572.53 L106.55 574.79 L108.8 575.55 L110.3 575.55 L112.55 574.79 L114.05 572.53 L114.8 568.75 L114.8 566.49 L114.05 562.71 L112.55 560.45 L110.3 559.69 L108.8 559.69" fill="none" stroke="#000" stroke-width="3.35" stroke-linecap="butt" stroke-linejoin="miter" stroke-miterlimit="2.5"/>
<path aria-label="0" d="M123.15 593.19 L120.9 593.95 L119.4 596.21 L118.65 599.99 L118.65 602.25 L119.4 606.03 L120.9 608.29 L123.15 609.05 L124.65 609.05 L126.9 608.29 L128.4 606.03 L129.15 602.25 L129.15 599.99 L128.4 596.21 L126.9 593.95 L124.65 593.19 L123.15 593.19" fill="none" stroke="#000" stroke-width="3.35" stroke-linecap="butt" stroke-linejoin="miter" stroke-miterlimit="2.5"/>
<path aria-label="10" d="M189.13 596.21 L190.63 595.46 L192.88 593.19 L192.88 609.05 M206.38 593.19 L204.13 593.95 L202.63 596.21 L201.88 599.99 L201.88 602.25 L202.63 606.03 L204.13 608.29 L206.38 609.05 L207.88 609.05 L210.13 608.29 L211.63 606.03 L212.38 602.25 L212.38 599.99 L211.63 596.21 L210.13 593.95 L207.88 593.19 L206.38 593.19" fill="none" stroke="#000" stroke-width="3.35" stroke-linecap="butt" stroke-linejoin="miter" stroke-miterlimit="2.5"/>
<path aria-label="20" d="M263.37 596.97 L263.37 596.21 L264.12 594.7 L264.87 593.95 L266.37 593.19 L269.37 593.19 L270.87 593.95 L271.62 594.7 L272.37 596.21 L272.37 597.72 L271.62 599.23 L270.12 601.5 L262.62 609.05 L273.12 609.05 M282.12 593.19 L279.87 593.95 L278.37 596.21 L277.62 599.99 L277.62 602.25 L278.37 606.03 L279.87 608.29 L282.12 609.05 L283.62 609.05 L285.87 608.29 L287.37 606.03 L288.12 602.25 L288.12 599.99 L287.37 596.21 L285.87 593.95 L283.62 593.19 L282.12 593.19" fill="none" stroke="#000" stroke-width="3.35" stroke-linecap="butt" stroke-linejoin="miter" stroke-miterlimit="2.5"/>
<path aria-label="30" d="M339.85 593.19 L348.1 593.19 L343.6 599.23 L345.85 599.23 L347.35 599.99 L348.1 600.75 L348.85 603.01 L348.85 604.52 L348.1 606.78 L346.6 608.29 L344.35 609.05 L342.1 609.05 L339.85 608.29 L339.1 607.54 L338.35 606.03 M357.85 593.19 L355.6 593.95 L354.1 596.21 L353.35 599.99 L353.35 602.25 L354.1 606.03 L355.6 608.29 L357.85 609.05 L359.35 609.05 L361.6 608.29 L363.1 606.03 L363.85 602.25 L363.85 599.99 L363.1 596.21 L361.6 593.95 L359.35 593.19 L357.85 593.19" fill="none" stroke="#000" stroke-width="3.35" stroke-linecap="butt" stroke-linejoin="miter" stroke-miterlimit="2.5"/>
<path aria-label="40" d="M421.58 593.19 L414.08 603.76 L425.33 603.76 M421.58 593.19 L421.58 609.05 M433.58 593.19 L431.33 593.95 L429.83 596.21 L429.08 599.99 L429.08 602.25 L429.83 606.03 L431.33 608.29 L433.58 609.05 L435.08 609.05 L437.33 608.29 L438.83 606.03 L439.58 602.25 L439.58 599.99 L438.83 596.21 L437.33 593.95 L435.08 593.19 L433.58 593.19" fill="none" stroke="#000" stroke-width="3.35" stroke-linecap="butt" stroke-linejoin="miter" stroke-miterlimit="2.5"/>
<path aria-label="t [min]" d="M255.53 622.49 L255.53 635.33 L256.28 637.59 L257.78 638.35 L259.28 638.35 M253.28 627.78 L258.53 627.78 M275.78 619.47 L275.78 643.63 M275.78 619.47 L281.03 619.47 M275.78 643.63 L281.03 643.63 M286.28 627.78 L286.28 638.35 M286.28 630.8 L288.53 628.53 L290.03 627.78 L292.28 627.78 L293.78 628.53 L294.53 630.8 L294.53 638.35 M294.53 630.8 L296.78 628.53 L298.28 627.78 L300.53 627.78 L302.03 628.53 L302.78 630.8 L302.78 638.35 M308.03 622.49 L308.78 623.25 L309.53 622.49 L308.78 621.74 L308.03 622.49 M308.78 627.78 L308.78 638.35 M314.78 627.78 L314.78 638.35 M314.78 630.8 L317.03 628.53 L318.53 627.78 L320.78 627.78 L322.28 628.53 L323.03 630.8 L323.03 638.35 M333.53 619.47 L333.53 643.63 M328.28 619.47 L333.53 619.47 M328.28 643.63 L333.53 643.63" fill="none" stroke="#000" stroke-width="3.35" stroke-linecap="butt" stroke-linejoin="miter" stroke-miterlimit="2.5"/>
<path aria-label="Norm. flux" d="M13.19 524.23 L29.05 524.23 M13.19 524.23 L29.05 513.8 M13.19 513.8 L29.05 513.8 M18.48 504.86 L19.23 506.35 L20.74 507.84 L23.01 508.58 L24.52 508.58 L26.78 507.84 L28.29 506.35 L29.05 504.86 L29.05 502.62 L28.29 501.13 L26.78 499.64 L24.52 498.9 L23.01 498.9 L20.74 499.64 L19.23 501.13 L18.48 502.62 L18.48 504.86 M18.48 493.69 L29.05 493.69 M23.01 493.69 L20.75 492.94 L19.23 491.45 L18.48 489.96 L18.48 487.73 M18.48 484 L29.05 484 M21.5 484 L19.23 481.76 L18.48 480.27 L18.48 478.04 L19.23 476.55 L21.5 475.81 L29.05 475.81 M21.5 475.81 L19.23 473.57 L18.48 472.08 L18.48 469.85 L19.23 468.36 L21.5 467.61 L29.05 467.61 M27.54 460.9 L28.3 461.65 L29.05 460.9 L28.3 460.16 L27.54 460.9 M13.2 437.81 L13.2 439.3 L13.95 440.79 L16.21 441.54 L29.05 441.54 M18.48 443.77 L18.48 438.56 M13.2 433.34 L29.05 433.34 M18.48 427.38 L26.03 427.38 L28.3 426.63 L29.05 425.14 L29.05 422.91 L28.3 421.42 L26.03 419.19 M18.48 419.19 L29.05 419.19 M18.48 413.97 L29.05 405.77 M18.48 405.77 L29.05 413.97" fill="none" stroke="#000" stroke-width="3.35" stroke-linecap="butt" stroke-linejoin="miter" stroke-miterlimit="2.5"/>
<path aria-label="2M1750−00" d="M288 375.69 L288 374.94 L288.75 373.42 L289.5 372.67 L291 371.91 L294 371.91 L295.5 372.67 L296.25 373.42 L297 374.94 L297 376.44 L296.25 377.95 L294.75 380.22 L287.25 387.77 L297.75 387.77 M303 371.91 L303 387.77 M303 371.91 L309 387.77 M315 371.91 L309 387.77 M315 371.91 L315 387.77 M322.5 374.94 L324 374.18 L326.25 371.91 L326.25 387.77 M345.75 371.91 L338.25 387.77 M335.25 371.91 L345.75 371.91 M359.25 371.91 L351.75 371.91 L351 378.71 L351.75 377.95 L354 377.2 L356.25 377.2 L358.5 377.95 L360 379.46 L360.75 381.73 L360.75 383.24 L360 385.5 L358.5 387.01 L356.25 387.77 L354 387.77 L351.75 387.01 L351 386.26 L350.25 384.75 M369.75 371.91 L367.5 372.67 L366 374.94 L365.25 378.71 L365.25 380.97 L366 384.75 L367.5 387.01 L369.75 387.77 L371.25 387.77 L373.5 387.01 L375 384.75 L375.75 380.97 L375.75 378.71 L375 374.94 L373.5 372.67 L371.25 371.91 L369.75 371.91 M381 380.97 L394.5 380.97 M404.25 371.91 L402 372.67 L400.5 374.94 L399.75 378.71 L399.75 380.97 L400.5 384.75 L402 387.01 L404.25 387.77 L405.75 387.77 L408 387.01 L409.5 384.75 L410.25 380.97 L410.25 378.71 L409.5 374.94 L408 372.67 L405.75 371.91 L404.25 371.91 M419.25 371.91 L417 372.67 L415.5 374.94 L414.75 378.71 L414.75 380.97 L415.5 384.75 L417 387.01 L419.25 387.77 L420.75 387.77 L423 387.01 L424.5 384.75 L425.25 380.97 L425.25 378.71 L424.5 374.94 L423 372.67 L420.75 371.91 L419.25 371.91" fill="none" stroke="#000" stroke-width="3.35" stroke-linecap="butt" stroke-linejoin="miter" stroke-miterlimit="2.5"/>
<path aria-label="λ=H broadband" d="M140.95 526.22 L142.45 526.22 L143.95 526.98 L144.7 527.73 L150.7 542.08 M146.2 531.51 L140.2 542.08 M155.2 533.02 L168.7 533.02 M155.2 537.55 L168.7 537.55 M174.7 526.22 L174.7 542.08 M185.2 526.22 L185.2 542.08 M174.7 533.77 L185.2 533.77 M203.2 526.22 L203.2 542.08 M203.2 533.77 L204.7 532.26 L206.2 531.51 L208.45 531.51 L209.95 532.26 L211.45 533.77 L212.2 536.04 L212.2 537.55 L211.45 539.81 L209.95 541.32 L208.45 542.08 L206.2 542.08 L204.7 541.32 L203.2 539.81 M217.45 531.51 L217.45 542.08 M217.45 536.04 L218.2 533.77 L219.7 532.26 L221.2 531.51 L223.45 531.51 M230.2 531.51 L228.7 532.26 L227.2 533.77 L226.45 536.04 L226.45 537.55 L227.2 539.81 L228.7 541.32 L230.2 542.08 L232.45 542.08 L233.95 541.32 L235.45 539.81 L236.2 537.55 L236.2 536.04 L235.45 533.77 L233.95 532.26 L232.45 531.51 L230.2 531.51 M249.7 531.51 L249.7 542.08 M249.7 533.77 L248.2 532.26 L246.7 531.51 L244.45 531.51 L242.95 532.26 L241.45 533.77 L240.7 536.04 L240.7 537.55 L241.45 539.81 L242.95 541.32 L244.45 542.08 L246.7 542.08 L248.2 541.32 L249.7 539.81 M263.95 526.22 L263.95 542.08 M263.95 533.77 L262.45 532.26 L260.95 531.51 L258.7 531.51 L257.2 532.26 L255.7 533.77 L254.95 536.04 L254.95 537.55 L255.7 539.81 L257.2 541.32 L258.7 542.08 L260.95 542.08 L262.45 541.32 L263.95 539.81 M269.95 526.22 L269.95 542.08 M269.95 533.77 L271.45 532.26 L272.95 531.51 L275.2 531.51 L276.7 532.26 L278.2 533.77 L278.95 536.04 L278.95 537.55 L278.2 539.81 L276.7 541.32 L275.2 542.08 L272.95 542.08 L271.45 541.32 L269.95 539.81 M292.45 531.51 L292.45 542.08 M292.45 533.77 L290.95 532.26 L289.45 531.51 L287.2 531.51 L285.7 532.26 L284.2 533.77 L283.45 536.04 L283.45 537.55 L284.2 539.81 L285.7 541.32 L287.2 542.08 L289.45 542.08 L290.95 541.32 L292.45 539.81 M298.45 531.51 L298.45 542.08 M298.45 534.53 L300.7 532.26 L302.2 531.51 L304.45 531.51 L305.95 532.26 L306.7 534.53 L306.7 542.08 M320.95 526.22 L320.95 542.08 M320.95 533.77 L319.45 532.26 L317.95 531.51 L315.7 531.51 L314.2 532.26 L312.7 533.77 L311.95 536.04 L311.95 537.55 L312.7 539.81 L314.2 541.32 L315.7 542.08 L317.95 542.08 L319.45 541.32 L320.95 539.81" fill="none" stroke="#000" stroke-width="3.35" stroke-linecap="butt" stroke-linejoin="miter" stroke-miterlimit="2.5"/>
</g>
<g>
<rect x="124.9" y="661.6" width="340.8" height="220.4" fill="none" stroke="#000" stroke-width="3.8" stroke-linejoin="bevel"/>
<path d="M200.63 882v-4.4 M200.63 661.6v4.4 M276.37 882v-4.4 M276.37 661.6v4.4 M352.1 882v-4.4 M352.1 661.6v4.4 M427.83 882v-4.4 M427.83 661.6v4.4 M132.47 882v-2.35 M132.47 661.6v2.35 M140.05 882v-2.35 M140.05 661.6v2.35 M147.62 882v-2.35 M147.62 661.6v2.35 M155.19 882v-2.35 M155.19 661.6v2.35 M162.77 882v-2.35 M162.77 661.6v2.35 M170.34 882v-2.35 M170.34 661.6v2.35 M177.91 882v-2.35 M177.91 661.6v2.35 M185.49 882v-2.35 M185.49 661.6v2.35 M193.06 882v-2.35 M193.06 661.6v2.35 M208.21 882v-2.35 M208.21 661.6v2.35 M215.78 882v-2.35 M215.78 661.6v2.35 M223.35 882v-2.35 M223.35 661.6v2.35 M230.93 882v-2.35 M230.93 661.6v2.35 M238.5 882v-2.35 M238.5 661.6v2.35 M246.07 882v-2.35 M246.07 661.6v2.35 M253.65 882v-2.35 M253.65 661.6v2.35 M261.22 882v-2.35 M261.22 661.6v2.35 M268.79 882v-2.35 M268.79 661.6v2.35 M283.94 882v-2.35 M283.94 661.6v2.35 M291.51 882v-2.35 M291.51 661.6v2.35 M299.09 882v-2.35 M299.09 661.6v2.35 M306.66 882v-2.35 M306.66 661.6v2.35 M314.23 882v-2.35 M314.23 661.6v2.35 M321.81 882v-2.35 M321.81 661.6v2.35 M329.38 882v-2.35 M329.38 661.6v2.35 M336.95 882v-2.35 M336.95 661.6v2.35 M344.53 882v-2.35 M344.53 661.6v2.35 M359.67 882v-2.35 M359.67 661.6v2.35 M367.25 882v-2.35 M367.25 661.6v2.35 M374.82 882v-2.35 M374.82 661.6v2.35 M382.39 882v-2.35 M382.39 661.6v2.35 M389.97 882v-2.35 M389.97 661.6v2.35 M397.54 882v-2.35 M397.54 661.6v2.35 M405.11 882v-2.35 M405.11 661.6v2.35 M412.69 882v-2.35 M412.69 661.6v2.35 M420.26 882v-2.35 M420.26 661.6v2.35 M435.41 882v-2.35 M435.41 661.6v2.35 M442.98 882v-2.35 M442.98 661.6v2.35 M450.55 882v-2.35 M450.55 661.6v2.35 M458.13 882v-2.35 M458.13 661.6v2.35 M124.9 716.7h7 M465.7 716.7h-7 M124.9 771.8h7 M465.7 771.8h-7 M124.9 826.9h7 M465.7 826.9h-7 M124.9 689.15h3.6 M465.7 689.15h-3.6 M124.9 744.25h3.6 M465.7 744.25h-3.6 M124.9 799.35h3.6 M465.7 799.35h-3.6 M124.9 854.45h3.6 M465.7 854.45h-3.6" stroke="#000" stroke-width="3.4" fill="none"/>
<path d="M155.4 754.2V800.8 M171.3 758.6V785.6 M187.2 773.6V800.6 M203.1 758.2V785.2 M219 778.4V805.4 M234.9 791V818 M250.8 787.5V814.5 M266.7 776.5V803.5 M282.6 761.1V788.1 M298.5 763.9V790.9 M314.4 753.2V780.2 M330.3 750.4V777.4 M346.2 720.5V747.5 M362.1 734.4V761.4 M378 750.7V777.7 M393.9 741.3V768.3 M409.8 726.6V753.6" stroke="#000" stroke-width="4.1" fill="none"/>
<path d="M151 754.2h8.8 M151 800.8h8.8 M166.9 758.6h8.8 M166.9 785.6h8.8 M182.8 773.6h8.8 M182.8 800.6h8.8 M198.7 758.2h8.8 M198.7 785.2h8.8 M214.6 778.4h8.8 M214.6 805.4h8.8 M230.5 791h8.8 M230.5 818h8.8 M246.4 787.5h8.8 M246.4 814.5h8.8 M262.3 776.5h8.8 M262.3 803.5h8.8 M278.2 761.1h8.8 M278.2 788.1h8.8 M294.1 763.9h8.8 M294.1 790.9h8.8 M310 753.2h8.8 M310 780.2h8.8 M325.9 750.4h8.8 M325.9 777.4h8.8 M341.8 720.5h8.8 M341.8 747.5h8.8 M357.7 734.4h8.8 M357.7 761.4h8.8 M373.6 750.7h8.8 M373.6 777.7h8.8 M389.5 741.3h8.8 M389.5 768.3h8.8 M405.4 726.6h8.8 M405.4 753.6h8.8" stroke="#000" stroke-width="3.7" fill="none"/>
<circle cx="155.4" cy="777.5" r="5.6"/>
<circle cx="171.3" cy="772.1" r="5.6"/>
<circle cx="187.2" cy="787.1" r="5.6"/>
<circle cx="203.1" cy="771.7" r="5.6"/>
<circle cx="219" cy="791.9" r="5.6"/>
<circle cx="234.9" cy="804.5" r="5.6"/>
<circle cx="250.8" cy="801" r="5.6"/>
<circle cx="266.7" cy="790" r="5.6"/>
<circle cx="282.6" cy="774.6" r="5.6"/>
<circle cx="298.5" cy="777.4" r="5.6"/>
<circle cx="314.4" cy="766.7" r="5.6"/>
<circle cx="330.3" cy="763.9" r="5.6"/>
<circle cx="346.2" cy="734" r="5.6"/>
<circle cx="362.1" cy="747.9" r="5.6"/>
<circle cx="378" cy="764.2" r="5.6"/>
<circle cx="393.9" cy="754.8" r="5.6"/>
<circle cx="409.8" cy="740.1" r="5.6"/>
<path d="M124.9 771.8H465.7" stroke="#0000ff" stroke-width="2.2" fill="none"/>
<path d="M234.8 798.7L409.7 737.8" stroke="#ff0000" stroke-width="1.9" fill="none"/>
<path aria-label="1.010" d="M54.05 664.47 L55.55 663.71 L57.8 661.45 L57.8 677.3 M68.3 675.79 L67.55 676.55 L68.3 677.3 L69.05 676.55 L68.3 675.79 M78.8 661.45 L76.55 662.2 L75.05 664.47 L74.3 668.24 L74.3 670.51 L75.05 674.28 L76.55 676.55 L78.8 677.3 L80.3 677.3 L82.55 676.55 L84.05 674.28 L84.8 670.51 L84.8 668.24 L84.05 664.47 L82.55 662.2 L80.3 661.45 L78.8 661.45 M91.55 664.47 L93.05 663.71 L95.3 661.45 L95.3 677.3 M108.8 661.45 L106.55 662.2 L105.05 664.47 L104.3 668.24 L104.3 670.51 L105.05 674.28 L106.55 676.55 L108.8 677.3 L110.3 677.3 L112.55 676.55 L114.05 674.28 L114.8 670.51 L114.8 668.24 L114.05 664.47 L112.55 662.2 L110.3 661.45 L108.8 661.45" fill="none" stroke="#000" stroke-width="3.35" stroke-linecap="butt" stroke-linejoin="miter" stroke-miterlimit="2.5"/>
<path aria-label="1.005" d="M54.05 713.16 L55.55 712.41 L57.8 710.14 L57.8 726 M68.3 724.49 L67.55 725.25 L68.3 726 L69.05 725.25 L68.3 724.49 M78.8 710.14 L76.55 710.9 L75.05 713.16 L74.3 716.94 L74.3 719.21 L75.05 722.98 L76.55 725.25 L78.8 726 L80.3 726 L82.55 725.25 L84.05 722.98 L84.8 719.21 L84.8 716.94 L84.05 713.16 L82.55 710.9 L80.3 710.14 L78.8 710.14 M93.8 710.14 L91.55 710.9 L90.05 713.16 L89.3 716.94 L89.3 719.21 L90.05 722.98 L91.55 725.25 L93.8 726 L95.3 726 L97.55 725.25 L99.05 722.98 L99.8 719.21 L99.8 716.94 L99.05 713.16 L97.55 710.9 L95.3 710.14 L93.8 710.14 M113.3 710.14 L105.8 710.14 L105.05 716.94 L105.8 716.18 L108.05 715.43 L110.3 715.43 L112.55 716.18 L114.05 717.7 L114.8 719.96 L114.8 721.47 L114.05 723.74 L112.55 725.25 L110.3 726 L108.05 726 L105.8 725.25 L105.05 724.49 L104.3 722.98" fill="none" stroke="#000" stroke-width="3.35" stroke-linecap="butt" stroke-linejoin="miter" stroke-miterlimit="2.5"/>
<path aria-label="1.000" d="M54.05 768.26 L55.55 767.51 L57.8 765.24 L57.8 781.1 M68.3 779.59 L67.55 780.34 L68.3 781.1 L69.05 780.34 L68.3 779.59 M78.8 765.24 L76.55 766 L75.05 768.26 L74.3 772.04 L74.3 774.3 L75.05 778.08 L76.55 780.34 L78.8 781.1 L80.3 781.1 L82.55 780.34 L84.05 778.08 L84.8 774.3 L84.8 772.04 L84.05 768.26 L82.55 766 L80.3 765.24 L78.8 765.24 M93.8 765.24 L91.55 766 L90.05 768.26 L89.3 772.04 L89.3 774.3 L90.05 778.08 L91.55 780.34 L93.8 781.1 L95.3 781.1 L97.55 780.34 L99.05 778.08 L99.8 774.3 L99.8 772.04 L99.05 768.26 L97.55 766 L95.3 765.24 L93.8 765.24 M108.8 765.24 L106.55 766 L105.05 768.26 L104.3 772.04 L104.3 774.3 L105.05 778.08 L106.55 780.34 L108.8 781.1 L110.3 781.1 L112.55 780.34 L114.05 778.08 L114.8 774.3 L114.8 772.04 L114.05 768.26 L112.55 766 L110.3 765.24 L108.8 765.24" fill="none" stroke="#000" stroke-width="3.35" stroke-linecap="butt" stroke-linejoin="miter" stroke-miterlimit="2.5"/>
<path aria-label="0.995" d="M56.3 820.34 L54.05 821.1 L52.55 823.36 L51.8 827.14 L51.8 829.4 L52.55 833.18 L54.05 835.44 L56.3 836.2 L57.8 836.2 L60.05 835.44 L61.55 833.18 L62.3 829.4 L62.3 827.14 L61.55 823.36 L60.05 821.1 L57.8 820.34 L56.3 820.34 M68.3 834.69 L67.55 835.44 L68.3 836.2 L69.05 835.44 L68.3 834.69 M84.05 825.63 L83.3 827.89 L81.8 829.4 L79.55 830.16 L78.8 830.16 L76.55 829.4 L75.05 827.89 L74.3 825.63 L74.3 824.87 L75.05 822.61 L76.55 821.1 L78.8 820.34 L79.55 820.34 L81.8 821.1 L83.3 822.61 L84.05 825.63 L84.05 829.4 L83.3 833.18 L81.8 835.44 L79.55 836.2 L78.05 836.2 L75.8 835.44 L75.05 833.93 M99.05 825.63 L98.3 827.89 L96.8 829.4 L94.55 830.16 L93.8 830.16 L91.55 829.4 L90.05 827.89 L89.3 825.63 L89.3 824.87 L90.05 822.61 L91.55 821.1 L93.8 820.34 L94.55 820.34 L96.8 821.1 L98.3 822.61 L99.05 825.63 L99.05 829.4 L98.3 833.18 L96.8 835.44 L94.55 836.2 L93.05 836.2 L90.8 835.44 L90.05 833.93 M113.3 820.34 L105.8 820.34 L105.05 827.14 L105.8 826.38 L108.05 825.63 L110.3 825.63 L112.55 826.38 L114.05 827.89 L114.8 830.16 L114.8 831.67 L114.05 833.93 L112.55 835.44 L110.3 836.2 L108.05 836.2 L105.8 835.44 L105.05 834.69 L104.3 833.18" fill="none" stroke="#000" stroke-width="3.35" stroke-linecap="butt" stroke-linejoin="miter" stroke-miterlimit="2.5"/>
<path aria-label="0.990" d="M56.3 866.64 L54.05 867.4 L52.55 869.66 L51.8 873.44 L51.8 875.71 L52.55 879.48 L54.05 881.75 L56.3 882.5 L57.8 882.5 L60.05 881.75 L61.55 879.48 L62.3 875.71 L62.3 873.44 L61.55 869.66 L60.05 867.4 L57.8 866.64 L56.3 866.64 M68.3 880.99 L67.55 881.75 L68.3 882.5 L69.05 881.75 L68.3 880.99 M84.05 871.93 L83.3 874.2 L81.8 875.71 L79.55 876.46 L78.8 876.46 L76.55 875.71 L75.05 874.2 L74.3 871.93 L74.3 871.17 L75.05 868.91 L76.55 867.4 L78.8 866.64 L79.55 866.64 L81.8 867.4 L83.3 868.91 L84.05 871.93 L84.05 875.71 L83.3 879.48 L81.8 881.75 L79.55 882.5 L78.05 882.5 L75.8 881.75 L75.05 880.24 M99.05 871.93 L98.3 874.2 L96.8 875.71 L94.55 876.46 L93.8 876.46 L91.55 875.71 L90.05 874.2 L89.3 871.93 L89.3 871.17 L90.05 868.91 L91.55 867.4 L93.8 866.64 L94.55 866.64 L96.8 867.4 L98.3 868.91 L99.05 871.93 L99.05 875.71 L98.3 879.48 L96.8 881.75 L94.55 882.5 L93.05 882.5 L90.8 881.75 L90.05 880.24 M108.8 866.64 L106.55 867.4 L105.05 869.66 L104.3 873.44 L104.3 875.71 L105.05 879.48 L106.55 881.75 L108.8 882.5 L110.3 882.5 L112.55 881.75 L114.05 879.48 L114.8 875.71 L114.8 873.44 L114.05 869.66 L112.55 867.4 L110.3 866.64 L108.8 866.64" fill="none" stroke="#000" stroke-width="3.35" stroke-linecap="butt" stroke-linejoin="miter" stroke-miterlimit="2.5"/>
<path aria-label="0" d="M123.15 900.14 L120.9 900.9 L119.4 903.16 L118.65 906.94 L118.65 909.21 L119.4 912.98 L120.9 915.25 L123.15 916 L124.65 916 L126.9 915.25 L128.4 912.98 L129.15 909.21 L129.15 906.94 L128.4 903.16 L126.9 900.9 L124.65 900.14 L123.15 900.14" fill="none" stroke="#000" stroke-width="3.35" stroke-linecap="butt" stroke-linejoin="miter" stroke-miterlimit="2.5"/>
<path aria-label="10" d="M189.13 903.16 L190.63 902.41 L192.88 900.14 L192.88 916 M206.38 900.14 L204.13 900.9 L202.63 903.16 L201.88 906.94 L201.88 909.21 L202.63 912.98 L204.13 915.25 L206.38 916 L207.88 916 L210.13 915.25 L211.63 912.98 L212.38 909.21 L212.38 906.94 L211.63 903.16 L210.13 900.9 L207.88 900.14 L206.38 900.14" fill="none" stroke="#000" stroke-width="3.35" stroke-linecap="butt" stroke-linejoin="miter" stroke-miterlimit="2.5"/>
<path aria-label="20" d="M263.37 903.92 L263.37 903.16 L264.12 901.65 L264.87 900.9 L266.37 900.14 L269.37 900.14 L270.87 900.9 L271.62 901.65 L272.37 903.16 L272.37 904.67 L271.62 906.18 L270.12 908.45 L262.62 916 L273.12 916 M282.12 900.14 L279.87 900.9 L278.37 903.16 L277.62 906.94 L277.62 909.21 L278.37 912.98 L279.87 915.25 L282.12 916 L283.62 916 L285.87 915.25 L287.37 912.98 L288.12 909.21 L288.12 906.94 L287.37 903.16 L285.87 900.9 L283.62 900.14 L282.12 900.14" fill="none" stroke="#000" stroke-width="3.35" stroke-linecap="butt" stroke-linejoin="miter" stroke-miterlimit="2.5"/>
<path aria-label="30" d="M339.85 900.14 L348.1 900.14 L343.6 906.18 L345.85 906.18 L347.35 906.94 L348.1 907.7 L348.85 909.96 L348.85 911.47 L348.1 913.74 L346.6 915.25 L344.35 916 L342.1 916 L339.85 915.25 L339.1 914.49 L338.35 912.98 M357.85 900.14 L355.6 900.9 L354.1 903.16 L353.35 906.94 L353.35 909.21 L354.1 912.98 L355.6 915.25 L357.85 916 L359.35 916 L361.6 915.25 L363.1 912.98 L363.85 909.21 L363.85 906.94 L363.1 903.16 L361.6 900.9 L359.35 900.14 L357.85 900.14" fill="none" stroke="#000" stroke-width="3.35" stroke-linecap="butt" stroke-linejoin="miter" stroke-miterlimit="2.5"/>
<path aria-label="40" d="M421.58 900.14 L414.08 910.72 L425.33 910.72 M421.58 900.14 L421.58 916 M433.58 900.14 L431.33 900.9 L429.83 903.16 L429.08 906.94 L429.08 909.21 L429.83 912.98 L431.33 915.25 L433.58 916 L435.08 916 L437.33 915.25 L438.83 912.98 L439.58 909.21 L439.58 906.94 L438.83 903.16 L437.33 900.9 L435.08 900.14 L433.58 900.14" fill="none" stroke="#000" stroke-width="3.35" stroke-linecap="butt" stroke-linejoin="miter" stroke-miterlimit="2.5"/>
<path aria-label="t [min]" d="M255.53 929.44 L255.53 942.28 L256.28 944.54 L257.78 945.3 L259.28 945.3 M253.28 934.73 L258.53 934.73 M275.78 926.42 L275.78 950.58 M275.78 926.42 L281.03 926.42 M275.78 950.58 L281.03 950.58 M286.28 934.73 L286.28 945.3 M286.28 937.75 L288.53 935.48 L290.03 934.73 L292.28 934.73 L293.78 935.48 L294.53 937.75 L294.53 945.3 M294.53 937.75 L296.78 935.48 L298.28 934.73 L300.53 934.73 L302.03 935.48 L302.78 937.75 L302.78 945.3 M308.03 929.44 L308.78 930.2 L309.53 929.44 L308.78 928.69 L308.03 929.44 M308.78 934.73 L308.78 945.3 M314.78 934.73 L314.78 945.3 M314.78 937.75 L317.03 935.48 L318.53 934.73 L320.78 934.73 L322.28 935.48 L323.03 937.75 L323.03 945.3 M333.53 926.42 L333.53 950.58 M328.28 926.42 L333.53 926.42 M328.28 950.58 L333.53 950.58" fill="none" stroke="#000" stroke-width="3.35" stroke-linecap="butt" stroke-linejoin="miter" stroke-miterlimit="2.5"/>
<path aria-label="Norm. flux" d="M13.19 831.15 L29.05 831.15 M13.19 831.15 L29.05 820.72 M13.19 820.72 L29.05 820.72 M18.48 811.78 L19.23 813.27 L20.74 814.76 L23.01 815.51 L24.52 815.51 L26.78 814.76 L28.29 813.27 L29.05 811.78 L29.05 809.55 L28.29 808.06 L26.78 806.57 L24.52 805.82 L23.01 805.82 L20.74 806.57 L19.23 808.06 L18.48 809.55 L18.48 811.78 M18.48 800.61 L29.05 800.61 M23.01 800.61 L20.75 799.87 L19.23 798.38 L18.48 796.88 L18.48 794.65 M18.48 790.92 L29.05 790.92 M21.5 790.92 L19.23 788.69 L18.48 787.2 L18.48 784.96 L19.23 783.47 L21.5 782.73 L29.05 782.73 M21.5 782.73 L19.23 780.5 L18.48 779 L18.48 776.77 L19.23 775.28 L21.5 774.53 L29.05 774.53 M27.54 767.83 L28.3 768.57 L29.05 767.83 L28.3 767.08 L27.54 767.83 M13.2 744.73 L13.2 746.22 L13.95 747.71 L16.21 748.46 L29.05 748.46 M18.48 750.69 L18.48 745.48 M13.2 740.26 L29.05 740.26 M18.48 734.3 L26.03 734.3 L28.3 733.56 L29.05 732.07 L29.05 729.83 L28.3 728.34 L26.03 726.11 M18.48 726.11 L29.05 726.11 M18.48 720.89 L29.05 712.7 M18.48 712.7 L29.05 720.89" fill="none" stroke="#000" stroke-width="3.35" stroke-linecap="butt" stroke-linejoin="miter" stroke-miterlimit="2.5"/>
<path aria-label="2M0624−45" d="M288 682.59 L288 681.84 L288.75 680.33 L289.5 679.57 L291 678.82 L294 678.82 L295.5 679.57 L296.25 680.33 L297 681.84 L297 683.35 L296.25 684.86 L294.75 687.12 L287.25 694.67 L297.75 694.67 M303 678.82 L303 694.67 M303 678.82 L309 694.67 M315 678.82 L309 694.67 M315 678.82 L315 694.67 M324.75 678.82 L322.5 679.57 L321 681.84 L320.25 685.61 L320.25 687.88 L321 691.65 L322.5 693.92 L324.75 694.67 L326.25 694.67 L328.5 693.92 L330 691.65 L330.75 687.88 L330.75 685.61 L330 681.84 L328.5 679.57 L326.25 678.82 L324.75 678.82 M345 681.08 L344.25 679.57 L342 678.82 L340.5 678.82 L338.25 679.57 L336.75 681.84 L336 685.61 L336 689.39 L336.75 692.41 L338.25 693.92 L340.5 694.67 L341.25 694.67 L343.5 693.92 L345 692.41 L345.75 690.14 L345.75 689.39 L345 687.12 L343.5 685.61 L341.25 684.86 L340.5 684.86 L338.25 685.61 L336.75 687.12 L336 689.39 M351 682.59 L351 681.84 L351.75 680.33 L352.5 679.57 L354 678.82 L357 678.82 L358.5 679.57 L359.25 680.33 L360 681.84 L360 683.35 L359.25 684.86 L357.75 687.12 L350.25 694.67 L360.75 694.67 M372.75 678.82 L365.25 689.39 L376.5 689.39 M372.75 678.82 L372.75 694.67 M381 687.88 L394.5 687.88 M407.25 678.82 L399.75 689.39 L411 689.39 M407.25 678.82 L407.25 694.67 M423.75 678.82 L416.25 678.82 L415.5 685.61 L416.25 684.86 L418.5 684.1 L420.75 684.1 L423 684.86 L424.5 686.37 L425.25 688.63 L425.25 690.14 L424.5 692.41 L423 693.92 L420.75 694.67 L418.5 694.67 L416.25 693.92 L415.5 693.16 L414.75 691.65" fill="none" stroke="#000" stroke-width="3.35" stroke-linecap="butt" stroke-linejoin="miter" stroke-miterlimit="2.5"/>
<path aria-label="λ=1.12−1.66 μm" d="M140.95 833.12 L142.45 833.12 L143.95 833.88 L144.7 834.63 L150.7 848.98 M146.2 838.41 L140.2 848.98 M155.2 839.92 L168.7 839.92 M155.2 844.45 L168.7 844.45 M176.2 836.14 L177.7 835.39 L179.95 833.12 L179.95 848.98 M190.45 847.47 L189.7 848.23 L190.45 848.98 L191.2 848.23 L190.45 847.47 M198.7 836.14 L200.2 835.39 L202.45 833.12 L202.45 848.98 M212.2 836.9 L212.2 836.14 L212.95 834.63 L213.7 833.88 L215.2 833.12 L218.2 833.12 L219.7 833.88 L220.45 834.63 L221.2 836.14 L221.2 837.65 L220.45 839.16 L218.95 841.43 L211.45 848.98 L221.95 848.98 M227.2 842.19 L240.7 842.19 M248.2 836.14 L249.7 835.39 L251.95 833.12 L251.95 848.98 M262.45 847.47 L261.7 848.23 L262.45 848.98 L263.2 848.23 L262.45 847.47 M278.2 835.39 L277.45 833.88 L275.2 833.12 L273.7 833.12 L271.45 833.88 L269.95 836.14 L269.2 839.92 L269.2 843.7 L269.95 846.72 L271.45 848.23 L273.7 848.98 L274.45 848.98 L276.7 848.23 L278.2 846.72 L278.95 844.45 L278.95 843.7 L278.2 841.43 L276.7 839.92 L274.45 839.16 L273.7 839.16 L271.45 839.92 L269.95 841.43 L269.2 843.7 M293.2 835.39 L292.45 833.88 L290.2 833.12 L288.7 833.12 L286.45 833.88 L284.95 836.14 L284.2 839.92 L284.2 843.7 L284.95 846.72 L286.45 848.23 L288.7 848.98 L289.45 848.98 L291.7 848.23 L293.2 846.72 L293.95 844.45 L293.95 843.7 L293.2 841.43 L291.7 839.92 L289.45 839.16 L288.7 839.16 L286.45 839.92 L284.95 841.43 L284.2 843.7 M313.45 838.41 L308.95 854.26 M312.7 841.43 L311.95 845.21 L311.95 847.47 L313.45 848.98 L314.95 848.98 L316.45 848.23 L317.95 846.72 L319.45 843.7 M320.95 838.41 L319.45 843.7 L318.7 846.72 L318.7 848.23 L319.45 848.98 L320.95 848.98 L322.45 847.47 L323.2 845.96 M326.95 838.41 L326.95 848.98 M326.95 841.43 L329.2 839.16 L330.7 838.41 L332.95 838.41 L334.45 839.16 L335.2 841.43 L335.2 848.98 M335.2 841.43 L337.45 839.16 L338.95 838.41 L341.2 838.41 L342.7 839.16 L343.45 841.43 L343.45 848.98" fill="none" stroke="#000" stroke-width="3.35" stroke-linecap="butt" stroke-linejoin="miter" stroke-miterlimit="2.5"/>
</g>
<g>
<rect x="582.2" y="47.65" width="223.8" height="220.45" fill="none" stroke="#000" stroke-width="3.9" stroke-linejoin="bevel"/>
<path d="M587.3 268.1v-4.6 M587.3 47.65v4.6 M658.55 268.1v-4.6 M658.55 47.65v4.6 M729.8 268.1v-4.6 M729.8 47.65v4.6 M801.05 268.1v-4.6 M801.05 47.65v4.6 M601.55 268.1v-2.3 M601.55 47.65v2.3 M615.8 268.1v-2.3 M615.8 47.65v2.3 M630.05 268.1v-2.3 M630.05 47.65v2.3 M644.3 268.1v-2.3 M644.3 47.65v2.3 M672.8 268.1v-2.3 M672.8 47.65v2.3 M687.05 268.1v-2.3 M687.05 47.65v2.3 M701.3 268.1v-2.3 M701.3 47.65v2.3 M715.55 268.1v-2.3 M715.55 47.65v2.3 M744.05 268.1v-2.3 M744.05 47.65v2.3 M758.3 268.1v-2.3 M758.3 47.65v2.3 M772.55 268.1v-2.3 M772.55 47.65v2.3 M786.8 268.1v-2.3 M786.8 47.65v2.3 M582.2 231.36h4.6 M806 231.36h-4.6 M582.2 194.62h4.6 M806 194.62h-4.6 M582.2 157.88h4.6 M806 157.88h-4.6 M582.2 121.13h4.6 M806 121.13h-4.6 M582.2 84.39h4.6 M806 84.39h-4.6 M582.2 260.75h2.3 M806 260.75h-2.3 M582.2 253.4h2.3 M806 253.4h-2.3 M582.2 246.06h2.3 M806 246.06h-2.3 M582.2 238.71h2.3 M806 238.71h-2.3 M582.2 224.01h2.3 M806 224.01h-2.3 M582.2 216.66h2.3 M806 216.66h-2.3 M582.2 209.31h2.3 M806 209.31h-2.3 M582.2 201.97h2.3 M806 201.97h-2.3 M582.2 187.27h2.3 M806 187.27h-2.3 M582.2 179.92h2.3 M806 179.92h-2.3 M582.2 172.57h2.3 M806 172.57h-2.3 M582.2 165.22h2.3 M806 165.22h-2.3 M582.2 150.53h2.3 M806 150.53h-2.3 M582.2 143.18h2.3 M806 143.18h-2.3 M582.2 135.83h2.3 M806 135.83h-2.3 M582.2 128.48h2.3 M806 128.48h-2.3 M582.2 113.79h2.3 M806 113.79h-2.3 M582.2 106.44h2.3 M806 106.44h-2.3 M582.2 99.09h2.3 M806 99.09h-2.3 M582.2 91.74h2.3 M806 91.74h-2.3 M582.2 77.04h2.3 M806 77.04h-2.3 M582.2 69.69h2.3 M806 69.69h-2.3 M582.2 62.35h2.3 M806 62.35h-2.3 M582.2 55h2.3 M806 55h-2.3" stroke="#000" stroke-width="3.4" fill="none"/>
<path d="M587.3 84.39 L590.03 86.15 L592.77 87.88 L595.5 89.6 L598.23 91.31 L600.97 92.99 L603.7 94.67 L606.44 96.32 L609.17 97.96 L611.9 99.59 L614.64 101.19 L617.37 102.79 L620.11 104.37 L622.84 105.93 L625.57 107.48 L628.31 109.01 L631.04 110.53 L633.77 112.03 L636.51 113.52 L639.24 115 L641.97 116.46 L644.71 117.91 L647.44 119.34 L650.18 120.76 L652.91 122.17 L655.64 123.56 L658.38 124.94 L661.11 126.31 L663.85 127.66 L666.58 129 L669.31 130.33 L672.05 131.65 L674.78 132.95 L677.51 134.24 L680.25 135.52 L682.98 136.78 L685.71 138.04 L688.45 139.28 L691.18 140.51 L693.92 141.72 L696.65 142.93 L699.38 144.13 L702.12 145.31 L704.85 146.48 L707.58 147.64 L710.32 148.79 L713.05 149.93 L715.79 151.06 L718.52 152.18 L721.25 153.28 L723.99 154.38 L726.72 155.47 L729.45 156.54 L732.19 157.61 L734.92 158.66 L737.66 159.7 L740.39 160.74 L743.12 161.76 L745.86 162.78 L748.59 163.79 L751.33 164.78 L754.06 165.77 L756.79 166.74 L759.53 167.71 L762.26 168.67 L764.99 169.62 L767.73 170.56 L770.46 171.49 L773.19 172.41 L775.93 173.33 L778.66 174.23 L781.4 175.13 L784.13 176.01 L786.86 176.89 L789.6 177.76 L792.33 178.63 L795.06 179.48 L797.8 180.33 L800.53 181.16 L803.27 181.99 L806 182.82" stroke="#ff0000" stroke-width="1.1" stroke-dasharray="12.66 12.66" fill="none"/>
<path d="M587.3 84.39 L590.03 87.88 L592.77 91.31 L595.5 94.67 L598.23 97.96 L600.97 101.19 L603.7 104.37 L606.44 107.48 L609.17 110.53 L611.9 113.52 L614.64 116.46 L617.37 119.34 L620.11 122.17 L622.84 124.94 L625.57 127.66 L628.31 130.33 L631.04 132.95 L633.77 135.52 L636.51 138.04 L639.24 140.51 L641.97 142.93 L644.71 145.31 L647.44 147.64 L650.18 149.93 L652.91 152.18 L655.64 154.38 L658.38 156.54 L661.11 158.66 L663.85 160.74 L666.58 162.78 L669.31 164.78 L672.05 166.74 L674.78 168.67 L677.51 170.56 L680.25 172.41 L682.98 174.23 L685.71 176.01 L688.45 177.76 L691.18 179.48 L693.92 181.16 L696.65 182.82 L699.38 184.44 L702.12 186.03 L704.85 187.59 L707.58 189.12 L710.32 190.62 L713.05 192.09 L715.79 193.53 L718.52 194.95 L721.25 196.34 L723.99 197.7 L726.72 199.04 L729.45 200.35 L732.19 201.64 L734.92 202.9 L737.66 204.14 L740.39 205.36 L743.12 206.55 L745.86 207.72 L748.59 208.87 L751.33 209.99 L754.06 211.1 L756.79 212.18 L759.53 213.24 L762.26 214.28 L764.99 215.31 L767.73 216.31 L770.46 217.29 L773.19 218.26 L775.93 219.21 L778.66 220.14 L781.4 221.05 L784.13 221.94 L786.86 222.82 L789.6 223.68 L792.33 224.52 L795.06 225.35 L797.8 226.16 L800.53 226.96 L803.27 227.74 L806 228.51" stroke="#0000ff" stroke-width="1.1" stroke-dasharray="12.71 12.71" fill="none"/>
<path transform="scale(0.8,1)" d="M734.12 268.09 L741.25 268.08 L748.37 268.04 L755.5 267.96 L762.62 267.77 L769.75 267.39 L776.88 266.63 L784 265.21 L791.12 262.69 L798.25 258.49 L805.37 251.89 L812.5 242.09 L819.62 228.47 L826.75 210.71 L833.87 189.13 L841 164.84 L848.12 139.81 L855.25 116.65 L862.37 98.21 L869.5 87.01 L876.62 84.68 L883.75 91.58 L890.87 106.67 L898 127.82 L905.12 152.27 L912.25 177.22 L919.38 200.35 L926.5 220.1 L933.62 235.79 L940.75 247.43 L947.87 255.54 L955 260.85 L962.12 264.12 L969.25 266.02 L976.37 267.07 L983.5 267.62 L990.62 267.88 L997.75 268.01 L1004.87 268.06 L1007.5 268.07" stroke="#000" stroke-width="2.75" stroke-linejoin="round" fill="none"/>
<path transform="scale(0.8,1)" d="M734.12 268.09 L741.25 268.07 L748.37 268.02 L755.5 267.91 L762.62 267.68 L769.75 267.2 L776.88 266.26 L784 264.53 L791.12 261.55 L798.25 256.65 L805.37 249.09 L812.5 238.11 L819.62 223.15 L826.75 204.08 L833.87 181.45 L841 156.68 L848.12 131.94 L855.25 110.01 L862.37 93.67 L869.5 85.24 L876.62 85.94 L883.75 95.67 L890.87 113.01 L898 135.55 L905.12 160.45 L912.25 185.03 L919.38 207.19 L926.5 225.66 L933.62 240 L940.75 250.42 L947.87 257.53 L955 262.1 L962.12 264.86 L969.25 266.44 L976.37 267.29 L983.5 267.73 L990.62 267.94 L997.75 268.03 L1004.87 268.07 L1007.5 268.08" stroke="#ff0000" stroke-width="1.7" stroke-linejoin="round" fill="none"/>
<path transform="scale(0.8,1)" d="M734.12 268.08 L741.25 268.05 L748.37 267.99 L755.5 267.83 L762.62 267.51 L769.75 266.87 L776.88 265.65 L784 263.45 L791.12 259.74 L798.25 253.81 L805.37 244.88 L812.5 232.26 L819.62 215.53 L826.75 194.84 L833.87 171.08 L841 146.01 L848.12 122.11 L855.25 102.23 L862.37 89.02 L869.5 84.39 L876.62 89.02 L883.75 102.23 L890.87 122.11 L898 146.01 L905.12 171.08 L912.25 194.84 L919.38 215.53 L926.5 232.26 L933.62 244.88 L940.75 253.81 L947.87 259.74 L955 263.45 L962.12 265.65 L969.25 266.87 L976.37 267.51 L983.5 267.83 L990.62 267.99 L997.75 268.05 L1004.87 268.08 L1007.5 268.09" stroke="#0000ff" stroke-width="1.85" stroke-linejoin="round" fill="none"/>
<path aria-label="1.2" d="M541.4 50.41 L542.9 49.66 L545.15 47.39 L545.15 63.25 M555.65 61.74 L554.9 62.49 L555.65 63.25 L556.4 62.49 L555.65 61.74 M562.4 51.17 L562.4 50.41 L563.15 48.91 L563.9 48.15 L565.4 47.39 L568.4 47.39 L569.9 48.15 L570.65 48.91 L571.4 50.41 L571.4 51.92 L570.65 53.44 L569.15 55.7 L561.65 63.25 L572.15 63.25" fill="none" stroke="#000" stroke-width="3.35" stroke-linecap="butt" stroke-linejoin="miter" stroke-miterlimit="2.5"/>
<path aria-label="1.0" d="M541.4 80.86 L542.9 80.1 L545.15 77.84 L545.15 93.69 M555.65 92.18 L554.9 92.94 L555.65 93.69 L556.4 92.94 L555.65 92.18 M566.15 77.84 L563.9 78.59 L562.4 80.86 L561.65 84.63 L561.65 86.9 L562.4 90.67 L563.9 92.94 L566.15 93.69 L567.65 93.69 L569.9 92.94 L571.4 90.67 L572.15 86.9 L572.15 84.63 L571.4 80.86 L569.9 78.59 L567.65 77.84 L566.15 77.84" fill="none" stroke="#000" stroke-width="3.35" stroke-linecap="butt" stroke-linejoin="miter" stroke-miterlimit="2.5"/>
<path aria-label="0.8" d="M543.65 114.58 L541.4 115.33 L539.9 117.6 L539.15 121.37 L539.15 123.64 L539.9 127.41 L541.4 129.68 L543.65 130.43 L545.15 130.43 L547.4 129.68 L548.9 127.41 L549.65 123.64 L549.65 121.37 L548.9 117.6 L547.4 115.33 L545.15 114.58 L543.65 114.58 M555.65 128.92 L554.9 129.68 L555.65 130.43 L556.4 129.68 L555.65 128.92 M565.4 114.58 L563.15 115.33 L562.4 116.84 L562.4 118.35 L563.15 119.86 L564.65 120.62 L567.65 121.37 L569.9 122.13 L571.4 123.64 L572.15 125.15 L572.15 127.41 L571.4 128.92 L570.65 129.68 L568.4 130.43 L565.4 130.43 L563.15 129.68 L562.4 128.92 L561.65 127.41 L561.65 125.15 L562.4 123.64 L563.9 122.13 L566.15 121.37 L569.15 120.62 L570.65 119.86 L571.4 118.35 L571.4 116.84 L570.65 115.33 L568.4 114.58 L565.4 114.58" fill="none" stroke="#000" stroke-width="3.35" stroke-linecap="butt" stroke-linejoin="miter" stroke-miterlimit="2.5"/>
<path aria-label="0.6" d="M543.65 151.32 L541.4 152.08 L539.9 154.34 L539.15 158.12 L539.15 160.38 L539.9 164.16 L541.4 166.42 L543.65 167.18 L545.15 167.18 L547.4 166.42 L548.9 164.16 L549.65 160.38 L549.65 158.12 L548.9 154.34 L547.4 152.08 L545.15 151.32 L543.65 151.32 M555.65 165.67 L554.9 166.42 L555.65 167.18 L556.4 166.42 L555.65 165.67 M571.4 153.59 L570.65 152.08 L568.4 151.32 L566.9 151.32 L564.65 152.08 L563.15 154.34 L562.4 158.12 L562.4 161.89 L563.15 164.91 L564.65 166.42 L566.9 167.18 L567.65 167.18 L569.9 166.42 L571.4 164.91 L572.15 162.65 L572.15 161.89 L571.4 159.62 L569.9 158.12 L567.65 157.36 L566.9 157.36 L564.65 158.12 L563.15 159.62 L562.4 161.89" fill="none" stroke="#000" stroke-width="3.35" stroke-linecap="butt" stroke-linejoin="miter" stroke-miterlimit="2.5"/>
<path aria-label="0.4" d="M543.65 188.06 L541.4 188.82 L539.9 191.08 L539.15 194.86 L539.15 197.12 L539.9 200.9 L541.4 203.16 L543.65 203.92 L545.15 203.92 L547.4 203.16 L548.9 200.9 L549.65 197.12 L549.65 194.86 L548.9 191.08 L547.4 188.82 L545.15 188.06 L543.65 188.06 M555.65 202.41 L554.9 203.16 L555.65 203.92 L556.4 203.16 L555.65 202.41 M569.15 188.06 L561.65 198.63 L572.9 198.63 M569.15 188.06 L569.15 203.92" fill="none" stroke="#000" stroke-width="3.35" stroke-linecap="butt" stroke-linejoin="miter" stroke-miterlimit="2.5"/>
<path aria-label="0.2" d="M543.65 224.8 L541.4 225.56 L539.9 227.82 L539.15 231.6 L539.15 233.86 L539.9 237.64 L541.4 239.9 L543.65 240.66 L545.15 240.66 L547.4 239.9 L548.9 237.64 L549.65 233.86 L549.65 231.6 L548.9 227.82 L547.4 225.56 L545.15 224.8 L543.65 224.8 M555.65 239.15 L554.9 239.9 L555.65 240.66 L556.4 239.9 L555.65 239.15 M562.4 228.58 L562.4 227.82 L563.15 226.31 L563.9 225.56 L565.4 224.8 L568.4 224.8 L569.9 225.56 L570.65 226.31 L571.4 227.82 L571.4 229.33 L570.65 230.84 L569.15 233.11 L561.65 240.66 L572.15 240.66" fill="none" stroke="#000" stroke-width="3.35" stroke-linecap="butt" stroke-linejoin="miter" stroke-miterlimit="2.5"/>
<path aria-label="0.0" d="M543.65 252.45 L541.4 253.2 L539.9 255.47 L539.15 259.24 L539.15 261.5 L539.9 265.28 L541.4 267.55 L543.65 268.3 L545.15 268.3 L547.4 267.55 L548.9 265.28 L549.65 261.5 L549.65 259.24 L548.9 255.47 L547.4 253.2 L545.15 252.45 L543.65 252.45 M555.65 266.79 L554.9 267.55 L555.65 268.3 L556.4 267.55 L555.65 266.79 M566.15 252.45 L563.9 253.2 L562.4 255.47 L561.65 259.24 L561.65 261.5 L562.4 265.28 L563.9 267.55 L566.15 268.3 L567.65 268.3 L569.9 267.55 L571.4 265.28 L572.15 261.5 L572.15 259.24 L571.4 255.47 L569.9 253.2 L567.65 252.45 L566.15 252.45" fill="none" stroke="#000" stroke-width="3.35" stroke-linecap="butt" stroke-linejoin="miter" stroke-miterlimit="2.5"/>
<path aria-label="0.0" d="M574.7 286.1 L572.45 286.85 L570.95 289.12 L570.2 292.89 L570.2 295.16 L570.95 298.93 L572.45 301.2 L574.7 301.95 L576.2 301.95 L578.45 301.2 L579.95 298.93 L580.7 295.16 L580.7 292.89 L579.95 289.12 L578.45 286.85 L576.2 286.1 L574.7 286.1 M586.7 300.44 L585.95 301.2 L586.7 301.95 L587.45 301.2 L586.7 300.44 M597.2 286.1 L594.95 286.85 L593.45 289.12 L592.7 292.89 L592.7 295.16 L593.45 298.93 L594.95 301.2 L597.2 301.95 L598.7 301.95 L600.95 301.2 L602.45 298.93 L603.2 295.16 L603.2 292.89 L602.45 289.12 L600.95 286.85 L598.7 286.1 L597.2 286.1" fill="none" stroke="#000" stroke-width="3.35" stroke-linecap="butt" stroke-linejoin="miter" stroke-miterlimit="2.5"/>
<path aria-label="0.5" d="M645.95 286.1 L643.7 286.85 L642.2 289.12 L641.45 292.89 L641.45 295.16 L642.2 298.93 L643.7 301.2 L645.95 301.95 L647.45 301.95 L649.7 301.2 L651.2 298.93 L651.95 295.16 L651.95 292.89 L651.2 289.12 L649.7 286.85 L647.45 286.1 L645.95 286.1 M657.95 300.44 L657.2 301.2 L657.95 301.95 L658.7 301.2 L657.95 300.44 M672.95 286.1 L665.45 286.1 L664.7 292.89 L665.45 292.14 L667.7 291.38 L669.95 291.38 L672.2 292.14 L673.7 293.65 L674.45 295.91 L674.45 297.42 L673.7 299.69 L672.2 301.2 L669.95 301.95 L667.7 301.95 L665.45 301.2 L664.7 300.44 L663.95 298.93" fill="none" stroke="#000" stroke-width="3.35" stroke-linecap="butt" stroke-linejoin="miter" stroke-miterlimit="2.5"/>
<path aria-label="1.0" d="M714.95 289.12 L716.45 288.36 L718.7 286.1 L718.7 301.95 M729.2 300.44 L728.45 301.2 L729.2 301.95 L729.95 301.2 L729.2 300.44 M739.7 286.1 L737.45 286.85 L735.95 289.12 L735.2 292.89 L735.2 295.16 L735.95 298.93 L737.45 301.2 L739.7 301.95 L741.2 301.95 L743.45 301.2 L744.95 298.93 L745.7 295.16 L745.7 292.89 L744.95 289.12 L743.45 286.85 L741.2 286.1 L739.7 286.1" fill="none" stroke="#000" stroke-width="3.35" stroke-linecap="butt" stroke-linejoin="miter" stroke-miterlimit="2.5"/>
<path aria-label="1.5" d="M786.2 289.12 L787.7 288.36 L789.95 286.1 L789.95 301.95 M800.45 300.44 L799.7 301.2 L800.45 301.95 L801.2 301.2 L800.45 300.44 M815.45 286.1 L807.95 286.1 L807.2 292.89 L807.95 292.14 L810.2 291.38 L812.45 291.38 L814.7 292.14 L816.2 293.65 L816.95 295.91 L816.95 297.42 L816.2 299.69 L814.7 301.2 L812.45 301.95 L810.2 301.95 L807.95 301.2 L807.2 300.44 L806.45 298.93" fill="none" stroke="#000" stroke-width="3.35" stroke-linecap="butt" stroke-linejoin="miter" stroke-miterlimit="2.5"/>
<path aria-label="True slope [%/h]" d="M597.5 315.85 L597.5 331.7 M592.25 315.85 L602.75 315.85 M606.5 321.13 L606.5 331.7 M606.5 325.66 L607.25 323.4 L608.75 321.89 L610.25 321.13 L612.5 321.13 M616.25 321.13 L616.25 328.68 L617 330.95 L618.5 331.7 L620.75 331.7 L622.25 330.95 L624.5 328.68 M624.5 321.13 L624.5 331.7 M629.75 325.66 L638.75 325.66 L638.75 324.15 L638 322.64 L637.25 321.89 L635.75 321.13 L633.5 321.13 L632 321.89 L630.5 323.4 L629.75 325.66 L629.75 327.17 L630.5 329.44 L632 330.95 L633.5 331.7 L635.75 331.7 L637.25 330.95 L638.75 329.44 M663.5 323.4 L662.75 321.89 L660.5 321.13 L658.25 321.13 L656 321.89 L655.25 323.4 L656 324.91 L657.5 325.66 L661.25 326.42 L662.75 327.17 L663.5 328.68 L663.5 329.44 L662.75 330.95 L660.5 331.7 L658.25 331.7 L656 330.95 L655.25 329.44 M668.75 315.85 L668.75 331.7 M677.75 321.13 L676.25 321.89 L674.75 323.4 L674 325.66 L674 327.17 L674.75 329.44 L676.25 330.95 L677.75 331.7 L680 331.7 L681.5 330.95 L683 329.44 L683.75 327.17 L683.75 325.66 L683 323.4 L681.5 321.89 L680 321.13 L677.75 321.13 M689 321.13 L689 336.99 M689 323.4 L690.5 321.89 L692 321.13 L694.25 321.13 L695.75 321.89 L697.25 323.4 L698 325.66 L698 327.17 L697.25 329.44 L695.75 330.95 L694.25 331.7 L692 331.7 L690.5 330.95 L689 329.44 M702.5 325.66 L711.5 325.66 L711.5 324.15 L710.75 322.64 L710 321.89 L708.5 321.13 L706.25 321.13 L704.75 321.89 L703.25 323.4 L702.5 325.66 L702.5 327.17 L703.25 329.44 L704.75 330.95 L706.25 331.7 L708.5 331.7 L710 330.95 L711.5 329.44 M728.75 312.83 L728.75 336.99 M728.75 312.83 L734 312.83 M728.75 336.99 L734 336.99 M752 315.85 L750.5 316.6 L748.25 317.36 L746 317.36 L743.75 316.6 L742.25 315.85 L740.75 315.85 L739.25 316.6 L738.5 318.11 L738.5 319.62 L740 321.13 L741.5 321.13 L743 320.38 L743.75 318.87 L743.75 317.36 L742.25 315.85 M752 315.85 L738.5 331.7 M750.5 326.42 L749 326.42 L747.5 327.17 L746.75 328.68 L746.75 330.19 L748.25 331.7 L749.75 331.7 L751.25 330.95 L752 329.44 L752 327.93 L750.5 326.42 M769.25 312.83 L755.75 336.99 M773.75 315.85 L773.75 331.7 M773.75 324.15 L776 321.89 L777.5 321.13 L779.75 321.13 L781.25 321.89 L782 324.15 L782 331.7 M792.5 312.83 L792.5 336.99 M787.25 312.83 L792.5 312.83 M787.25 336.99 L792.5 336.99" fill="none" stroke="#000" stroke-width="3.35" stroke-linecap="butt" stroke-linejoin="miter" stroke-miterlimit="2.5"/>
<path aria-label="Prob. density" d="M501.25 232.2 L517.1 232.2 M501.25 232.2 L501.25 225.51 L502 223.28 L502.75 222.53 L504.27 221.79 L506.53 221.79 L508.04 222.53 L508.8 223.28 L509.55 225.51 L509.55 232.2 M506.53 216.58 L517.1 216.58 M511.06 216.58 L508.8 215.84 L507.29 214.35 L506.53 212.86 L506.53 210.63 M506.53 203.93 L507.29 205.42 L508.8 206.91 L511.06 207.65 L512.57 207.65 L514.84 206.91 L516.35 205.42 L517.1 203.93 L517.1 201.7 L516.35 200.21 L514.84 198.72 L512.57 197.98 L511.06 197.98 L508.8 198.72 L507.29 200.21 L506.53 201.7 L506.53 203.93 M501.25 192.77 L517.1 192.77 M508.8 192.77 L507.29 191.28 L506.53 189.8 L506.53 187.56 L507.29 186.08 L508.8 184.59 L511.06 183.84 L512.57 183.84 L514.84 184.59 L516.35 186.08 L517.1 187.56 L517.1 189.8 L516.35 191.28 L514.84 192.77 M515.59 177.89 L516.35 178.64 L517.1 177.89 L516.35 177.15 L515.59 177.89 M501.25 151.11 L517.1 151.11 M508.8 151.11 L507.29 152.59 L506.53 154.08 L506.53 156.31 L507.29 157.8 L508.8 159.29 L511.06 160.04 L512.57 160.04 L514.84 159.29 L516.35 157.8 L517.1 156.31 L517.1 154.08 L516.35 152.59 L514.84 151.11 M511.06 145.9 L511.06 136.97 L509.55 136.97 L508.04 137.72 L507.29 138.46 L506.53 139.95 L506.53 142.18 L507.29 143.67 L508.8 145.16 L511.06 145.9 L512.57 145.9 L514.84 145.16 L516.35 143.67 L517.1 142.18 L517.1 139.95 L516.35 138.46 L514.84 136.97 M506.53 131.76 L517.1 131.76 M509.55 131.76 L507.29 129.53 L506.53 128.04 L506.53 125.81 L507.29 124.32 L509.55 123.58 L517.1 123.58 M508.8 110.19 L507.29 110.93 L506.53 113.16 L506.53 115.4 L507.29 117.63 L508.8 118.37 L510.31 117.63 L511.06 116.14 L511.81 112.42 L512.57 110.93 L514.08 110.19 L514.84 110.19 L516.35 110.93 L517.1 113.16 L517.1 115.4 L516.35 117.63 L514.84 118.37 M501.25 105.72 L502 104.98 L501.25 104.24 L500.49 104.98 L501.25 105.72 M506.53 104.98 L517.1 104.98 M501.25 98.28 L514.08 98.28 L516.35 97.54 L517.1 96.05 L517.1 94.56 M506.53 100.52 L506.53 95.31 M506.53 91.59 L517.1 87.12 M506.53 82.66 L517.1 87.12 L520.12 88.61 L521.63 90.1 L522.38 91.59 L522.38 92.33" fill="none" stroke="#000" stroke-width="3.35" stroke-linecap="butt" stroke-linejoin="miter" stroke-miterlimit="2.5"/>
</g>
<g>
<rect x="582.2" y="354.7" width="223.8" height="220.35" fill="none" stroke="#000" stroke-width="3.9" stroke-linejoin="bevel"/>
<path d="M587.3 575.05v-4.6 M587.3 354.7v4.6 M658.55 575.05v-4.6 M658.55 354.7v4.6 M729.8 575.05v-4.6 M729.8 354.7v4.6 M801.05 575.05v-4.6 M801.05 354.7v4.6 M601.55 575.05v-2.3 M601.55 354.7v2.3 M615.8 575.05v-2.3 M615.8 354.7v2.3 M630.05 575.05v-2.3 M630.05 354.7v2.3 M644.3 575.05v-2.3 M644.3 354.7v2.3 M672.8 575.05v-2.3 M672.8 354.7v2.3 M687.05 575.05v-2.3 M687.05 354.7v2.3 M701.3 575.05v-2.3 M701.3 354.7v2.3 M715.55 575.05v-2.3 M715.55 354.7v2.3 M744.05 575.05v-2.3 M744.05 354.7v2.3 M758.3 575.05v-2.3 M758.3 354.7v2.3 M772.55 575.05v-2.3 M772.55 354.7v2.3 M786.8 575.05v-2.3 M786.8 354.7v2.3 M582.2 538.32h4.6 M806 538.32h-4.6 M582.2 501.6h4.6 M806 501.6h-4.6 M582.2 464.87h4.6 M806 464.87h-4.6 M582.2 428.15h4.6 M806 428.15h-4.6 M582.2 391.42h4.6 M806 391.42h-4.6 M582.2 567.7h2.3 M806 567.7h-2.3 M582.2 560.36h2.3 M806 560.36h-2.3 M582.2 553.01h2.3 M806 553.01h-2.3 M582.2 545.67h2.3 M806 545.67h-2.3 M582.2 530.98h2.3 M806 530.98h-2.3 M582.2 523.63h2.3 M806 523.63h-2.3 M582.2 516.29h2.3 M806 516.29h-2.3 M582.2 508.94h2.3 M806 508.94h-2.3 M582.2 494.25h2.3 M806 494.25h-2.3 M582.2 486.91h2.3 M806 486.91h-2.3 M582.2 479.56h2.3 M806 479.56h-2.3 M582.2 472.22h2.3 M806 472.22h-2.3 M582.2 457.53h2.3 M806 457.53h-2.3 M582.2 450.18h2.3 M806 450.18h-2.3 M582.2 442.84h2.3 M806 442.84h-2.3 M582.2 435.5h2.3 M806 435.5h-2.3 M582.2 420.8h2.3 M806 420.8h-2.3 M582.2 413.46h2.3 M806 413.46h-2.3 M582.2 406.12h2.3 M806 406.12h-2.3 M582.2 398.77h2.3 M806 398.77h-2.3 M582.2 384.08h2.3 M806 384.08h-2.3 M582.2 376.74h2.3 M806 376.74h-2.3 M582.2 369.39h2.3 M806 369.39h-2.3 M582.2 362.05h2.3 M806 362.05h-2.3" stroke="#000" stroke-width="3.4" fill="none"/>
<path d="M587.3 391.42 L590.03 393.18 L592.77 394.91 L595.5 396.63 L598.23 398.34 L600.97 400.02 L603.7 401.69 L606.44 403.35 L609.17 404.99 L611.9 406.61 L614.64 408.22 L617.37 409.81 L620.11 411.39 L622.84 412.95 L625.57 414.5 L628.31 416.03 L631.04 417.55 L633.77 419.05 L636.51 420.54 L639.24 422.02 L641.97 423.48 L644.71 424.93 L647.44 426.36 L650.18 427.78 L652.91 429.18 L655.64 430.58 L658.38 431.96 L661.11 433.32 L663.85 434.68 L666.58 436.02 L669.31 437.34 L672.05 438.66 L674.78 439.96 L677.51 441.25 L680.25 442.53 L682.98 443.79 L685.71 445.04 L688.45 446.29 L691.18 447.51 L693.92 448.73 L696.65 449.94 L699.38 451.13 L702.12 452.32 L704.85 453.49 L707.58 454.65 L710.32 455.8 L713.05 456.93 L715.79 458.06 L718.52 459.18 L721.25 460.29 L723.99 461.38 L726.72 462.47 L729.45 463.54 L732.19 464.61 L734.92 465.66 L737.66 466.7 L740.39 467.74 L743.12 468.76 L745.86 469.78 L748.59 470.78 L751.33 471.78 L754.06 472.76 L756.79 473.74 L759.53 474.71 L762.26 475.67 L764.99 476.61 L767.73 477.55 L770.46 478.48 L773.19 479.41 L775.93 480.32 L778.66 481.22 L781.4 482.12 L784.13 483.01 L786.86 483.88 L789.6 484.76 L792.33 485.62 L795.06 486.47 L797.8 487.32 L800.53 488.15 L803.27 488.98 L806 489.81" stroke="#ff0000" stroke-width="1.1" stroke-dasharray="12.66 12.66" fill="none"/>
<path d="M587.3 391.42 L590.03 394.91 L592.77 398.34 L595.5 401.69 L598.23 404.99 L600.97 408.22 L603.7 411.39 L606.44 414.5 L609.17 417.55 L611.9 420.54 L614.64 423.48 L617.37 426.36 L620.11 429.18 L622.84 431.96 L625.57 434.68 L628.31 437.34 L631.04 439.96 L633.77 442.53 L636.51 445.04 L639.24 447.51 L641.97 449.94 L644.71 452.32 L647.44 454.65 L650.18 456.93 L652.91 459.18 L655.64 461.38 L658.38 463.54 L661.11 465.66 L663.85 467.74 L666.58 469.78 L669.31 471.78 L672.05 473.74 L674.78 475.67 L677.51 477.55 L680.25 479.41 L682.98 481.22 L685.71 483.01 L688.45 484.76 L691.18 486.47 L693.92 488.15 L696.65 489.81 L699.38 491.42 L702.12 493.01 L704.85 494.57 L707.58 496.1 L710.32 497.6 L713.05 499.07 L715.79 500.52 L718.52 501.93 L721.25 503.32 L723.99 504.69 L726.72 506.02 L729.45 507.33 L732.19 508.62 L734.92 509.88 L737.66 511.12 L740.39 512.34 L743.12 513.53 L745.86 514.7 L748.59 515.84 L751.33 516.97 L754.06 518.07 L756.79 519.16 L759.53 520.22 L762.26 521.26 L764.99 522.28 L767.73 523.28 L770.46 524.27 L773.19 525.23 L775.93 526.18 L778.66 527.11 L781.4 528.02 L784.13 528.91 L786.86 529.79 L789.6 530.65 L792.33 531.49 L795.06 532.32 L797.8 533.13 L800.53 533.93 L803.27 534.71 L806 535.48" stroke="#0000ff" stroke-width="1.1" stroke-dasharray="12.71 12.71" fill="none"/>
<path transform="scale(0.8,1)" d="M734.12 558.8 L741.25 557.33 L748.37 550.2 L755.5 536.35 L762.62 518.03 L769.75 495.57 L776.88 470.22 L784 444.23 L791.12 420.6 L798.25 402.51 L805.37 392.69 L812.5 392.69 L819.62 402.51 L826.75 420.6 L833.87 444.23 L841 470.22 L848.12 495.57 L855.25 518.03 L862.37 536.35 L869.5 550.2 L876.62 559.95 L883.75 566.37 L890.87 570.33 L898 572.62 L905.12 573.87 L912.25 574.51 L919.38 574.81 L926.5 574.95 L933.62 575.01 L940.75 575.04 L947.87 575.05 L955 575.05 L962.12 575.05 L969.25 575.05 L976.37 575.05 L983.5 575.05 L990.62 575.05 L997.75 575.05 L1004.87 575.05 L1007.5 575.05" stroke="#000" stroke-width="2.75" stroke-linejoin="round" fill="none"/>
<path transform="scale(0.8,1)" d="M734.12 555.22 L741.25 554.3 L748.37 545.85 L755.5 530.45 L762.62 510.6 L769.75 486.93 L776.88 461.06 L784 435.53 L791.12 413.48 L798.25 398.03 L805.37 391.54 L812.5 395.06 L819.62 408.02 L826.75 428.4 L833.87 453.23 L841 479.3 L848.12 503.85 L855.25 524.95 L862.37 541.7 L869.5 554.04 L876.62 562.53 L883.75 567.99 L890.87 571.28 L898 573.15 L905.12 574.14 L912.25 574.64 L919.38 574.87 L926.5 574.98 L933.62 575.02 L940.75 575.04 L947.87 575.05 L955 575.05 L962.12 575.05 L969.25 575.05 L976.37 575.05 L983.5 575.05 L990.62 575.05 L997.75 575.05 L1004.87 575.05 L1007.5 575.05" stroke="#ff0000" stroke-width="1.7" stroke-linejoin="round" fill="none"/>
<path transform="scale(0.8,1)" d="M734.12 551.55 L741.25 550.55 L748.37 541.34 L755.5 524.47 L762.62 503.27 L769.75 478.66 L776.88 452.58 L784 427.82 L791.12 407.6 L798.25 394.85 L805.37 391.58 L812.5 398.31 L819.62 413.96 L826.75 436.14 L833.87 461.71 L841 487.56 L848.12 511.15 L855.25 530.89 L862.37 546.18 L869.5 557.19 L876.62 564.6 L883.75 569.26 L890.87 572.02 L898 573.55 L905.12 574.34 L912.25 574.74 L919.38 574.92 L926.5 575 L933.62 575.03 L940.75 575.04 L947.87 575.05 L955 575.05 L962.12 575.05 L969.25 575.05 L976.37 575.05 L983.5 575.05 L990.62 575.05 L997.75 575.05 L1004.87 575.05 L1007.5 575.05" stroke="#0000ff" stroke-width="1.85" stroke-linejoin="round" fill="none"/>
<path aria-label="1.2" d="M541.4 357.47 L542.9 356.71 L545.15 354.44 L545.15 370.3 M555.65 368.79 L554.9 369.55 L555.65 370.3 L556.4 369.55 L555.65 368.79 M562.4 358.22 L562.4 357.47 L563.15 355.95 L563.9 355.2 L565.4 354.44 L568.4 354.44 L569.9 355.2 L570.65 355.95 L571.4 357.47 L571.4 358.98 L570.65 360.49 L569.15 362.75 L561.65 370.3 L572.15 370.3" fill="none" stroke="#000" stroke-width="3.35" stroke-linecap="butt" stroke-linejoin="miter" stroke-miterlimit="2.5"/>
<path aria-label="1.0" d="M541.4 387.89 L542.9 387.13 L545.15 384.87 L545.15 400.72 M555.65 399.21 L554.9 399.97 L555.65 400.72 L556.4 399.97 L555.65 399.21 M566.15 384.87 L563.9 385.62 L562.4 387.89 L561.65 391.66 L561.65 393.93 L562.4 397.7 L563.9 399.97 L566.15 400.72 L567.65 400.72 L569.9 399.97 L571.4 397.7 L572.15 393.93 L572.15 391.66 L571.4 387.89 L569.9 385.62 L567.65 384.87 L566.15 384.87" fill="none" stroke="#000" stroke-width="3.35" stroke-linecap="butt" stroke-linejoin="miter" stroke-miterlimit="2.5"/>
<path aria-label="0.8" d="M543.65 421.59 L541.4 422.35 L539.9 424.62 L539.15 428.39 L539.15 430.65 L539.9 434.43 L541.4 436.69 L543.65 437.45 L545.15 437.45 L547.4 436.69 L548.9 434.43 L549.65 430.65 L549.65 428.39 L548.9 424.62 L547.4 422.35 L545.15 421.59 L543.65 421.59 M555.65 435.94 L554.9 436.69 L555.65 437.45 L556.4 436.69 L555.65 435.94 M565.4 421.59 L563.15 422.35 L562.4 423.86 L562.4 425.37 L563.15 426.88 L564.65 427.63 L567.65 428.39 L569.9 429.14 L571.4 430.65 L572.15 432.16 L572.15 434.43 L571.4 435.94 L570.65 436.69 L568.4 437.45 L565.4 437.45 L563.15 436.69 L562.4 435.94 L561.65 434.43 L561.65 432.16 L562.4 430.65 L563.9 429.14 L566.15 428.39 L569.15 427.63 L570.65 426.88 L571.4 425.37 L571.4 423.86 L570.65 422.35 L568.4 421.59 L565.4 421.59" fill="none" stroke="#000" stroke-width="3.35" stroke-linecap="butt" stroke-linejoin="miter" stroke-miterlimit="2.5"/>
<path aria-label="0.6" d="M543.65 458.32 L541.4 459.07 L539.9 461.34 L539.15 465.12 L539.15 467.38 L539.9 471.16 L541.4 473.42 L543.65 474.18 L545.15 474.18 L547.4 473.42 L548.9 471.16 L549.65 467.38 L549.65 465.12 L548.9 461.34 L547.4 459.07 L545.15 458.32 L543.65 458.32 M555.65 472.67 L554.9 473.42 L555.65 474.18 L556.4 473.42 L555.65 472.67 M571.4 460.59 L570.65 459.07 L568.4 458.32 L566.9 458.32 L564.65 459.07 L563.15 461.34 L562.4 465.12 L562.4 468.89 L563.15 471.91 L564.65 473.42 L566.9 474.18 L567.65 474.18 L569.9 473.42 L571.4 471.91 L572.15 469.65 L572.15 468.89 L571.4 466.62 L569.9 465.12 L567.65 464.36 L566.9 464.36 L564.65 465.12 L563.15 466.62 L562.4 468.89" fill="none" stroke="#000" stroke-width="3.35" stroke-linecap="butt" stroke-linejoin="miter" stroke-miterlimit="2.5"/>
<path aria-label="0.4" d="M543.65 495.04 L541.4 495.8 L539.9 498.06 L539.15 501.84 L539.15 504.1 L539.9 507.88 L541.4 510.14 L543.65 510.9 L545.15 510.9 L547.4 510.14 L548.9 507.88 L549.65 504.1 L549.65 501.84 L548.9 498.06 L547.4 495.8 L545.15 495.04 L543.65 495.04 M555.65 509.39 L554.9 510.14 L555.65 510.9 L556.4 510.14 L555.65 509.39 M569.15 495.04 L561.65 505.61 L572.9 505.61 M569.15 495.04 L569.15 510.9" fill="none" stroke="#000" stroke-width="3.35" stroke-linecap="butt" stroke-linejoin="miter" stroke-miterlimit="2.5"/>
<path aria-label="0.2" d="M543.65 531.77 L541.4 532.52 L539.9 534.79 L539.15 538.56 L539.15 540.83 L539.9 544.6 L541.4 546.87 L543.65 547.62 L545.15 547.62 L547.4 546.87 L548.9 544.6 L549.65 540.83 L549.65 538.56 L548.9 534.79 L547.4 532.52 L545.15 531.77 L543.65 531.77 M555.65 546.11 L554.9 546.87 L555.65 547.62 L556.4 546.87 L555.65 546.11 M562.4 535.54 L562.4 534.79 L563.15 533.28 L563.9 532.52 L565.4 531.77 L568.4 531.77 L569.9 532.52 L570.65 533.28 L571.4 534.79 L571.4 536.3 L570.65 537.81 L569.15 540.07 L561.65 547.62 L572.15 547.62" fill="none" stroke="#000" stroke-width="3.35" stroke-linecap="butt" stroke-linejoin="miter" stroke-miterlimit="2.5"/>
<path aria-label="0.0" d="M543.65 559.39 L541.4 560.15 L539.9 562.41 L539.15 566.19 L539.15 568.46 L539.9 572.23 L541.4 574.5 L543.65 575.25 L545.15 575.25 L547.4 574.5 L548.9 572.23 L549.65 568.46 L549.65 566.19 L548.9 562.41 L547.4 560.15 L545.15 559.39 L543.65 559.39 M555.65 573.74 L554.9 574.5 L555.65 575.25 L556.4 574.5 L555.65 573.74 M566.15 559.39 L563.9 560.15 L562.4 562.41 L561.65 566.19 L561.65 568.46 L562.4 572.23 L563.9 574.5 L566.15 575.25 L567.65 575.25 L569.9 574.5 L571.4 572.23 L572.15 568.46 L572.15 566.19 L571.4 562.41 L569.9 560.15 L567.65 559.39 L566.15 559.39" fill="none" stroke="#000" stroke-width="3.35" stroke-linecap="butt" stroke-linejoin="miter" stroke-miterlimit="2.5"/>
<path aria-label="0.0" d="M574.7 593.04 L572.45 593.8 L570.95 596.06 L570.2 599.84 L570.2 602.11 L570.95 605.88 L572.45 608.14 L574.7 608.9 L576.2 608.9 L578.45 608.14 L579.95 605.88 L580.7 602.11 L580.7 599.84 L579.95 596.06 L578.45 593.8 L576.2 593.04 L574.7 593.04 M586.7 607.39 L585.95 608.14 L586.7 608.9 L587.45 608.14 L586.7 607.39 M597.2 593.04 L594.95 593.8 L593.45 596.06 L592.7 599.84 L592.7 602.11 L593.45 605.88 L594.95 608.14 L597.2 608.9 L598.7 608.9 L600.95 608.14 L602.45 605.88 L603.2 602.11 L603.2 599.84 L602.45 596.06 L600.95 593.8 L598.7 593.04 L597.2 593.04" fill="none" stroke="#000" stroke-width="3.35" stroke-linecap="butt" stroke-linejoin="miter" stroke-miterlimit="2.5"/>
<path aria-label="0.5" d="M645.95 593.04 L643.7 593.8 L642.2 596.06 L641.45 599.84 L641.45 602.11 L642.2 605.88 L643.7 608.14 L645.95 608.9 L647.45 608.9 L649.7 608.14 L651.2 605.88 L651.95 602.11 L651.95 599.84 L651.2 596.06 L649.7 593.8 L647.45 593.04 L645.95 593.04 M657.95 607.39 L657.2 608.14 L657.95 608.9 L658.7 608.14 L657.95 607.39 M672.95 593.04 L665.45 593.04 L664.7 599.84 L665.45 599.08 L667.7 598.33 L669.95 598.33 L672.2 599.08 L673.7 600.6 L674.45 602.86 L674.45 604.37 L673.7 606.63 L672.2 608.14 L669.95 608.9 L667.7 608.9 L665.45 608.14 L664.7 607.39 L663.95 605.88" fill="none" stroke="#000" stroke-width="3.35" stroke-linecap="butt" stroke-linejoin="miter" stroke-miterlimit="2.5"/>
<path aria-label="1.0" d="M714.95 596.06 L716.45 595.31 L718.7 593.04 L718.7 608.9 M729.2 607.39 L728.45 608.14 L729.2 608.9 L729.95 608.14 L729.2 607.39 M739.7 593.04 L737.45 593.8 L735.95 596.06 L735.2 599.84 L735.2 602.11 L735.95 605.88 L737.45 608.14 L739.7 608.9 L741.2 608.9 L743.45 608.14 L744.95 605.88 L745.7 602.11 L745.7 599.84 L744.95 596.06 L743.45 593.8 L741.2 593.04 L739.7 593.04" fill="none" stroke="#000" stroke-width="3.35" stroke-linecap="butt" stroke-linejoin="miter" stroke-miterlimit="2.5"/>
<path aria-label="1.5" d="M786.2 596.06 L787.7 595.31 L789.95 593.04 L789.95 608.9 M800.45 607.39 L799.7 608.14 L800.45 608.9 L801.2 608.14 L800.45 607.39 M815.45 593.04 L807.95 593.04 L807.2 599.84 L807.95 599.08 L810.2 598.33 L812.45 598.33 L814.7 599.08 L816.2 600.6 L816.95 602.86 L816.95 604.37 L816.2 606.63 L814.7 608.14 L812.45 608.9 L810.2 608.9 L807.95 608.14 L807.2 607.39 L806.45 605.88" fill="none" stroke="#000" stroke-width="3.35" stroke-linecap="butt" stroke-linejoin="miter" stroke-miterlimit="2.5"/>
<path aria-label="True slope [%/h]" d="M597.5 622.79 L597.5 638.65 M592.25 622.79 L602.75 622.79 M606.5 628.08 L606.5 638.65 M606.5 632.61 L607.25 630.35 L608.75 628.83 L610.25 628.08 L612.5 628.08 M616.25 628.08 L616.25 635.63 L617 637.89 L618.5 638.65 L620.75 638.65 L622.25 637.89 L624.5 635.63 M624.5 628.08 L624.5 638.65 M629.75 632.61 L638.75 632.61 L638.75 631.1 L638 629.59 L637.25 628.83 L635.75 628.08 L633.5 628.08 L632 628.83 L630.5 630.35 L629.75 632.61 L629.75 634.12 L630.5 636.38 L632 637.89 L633.5 638.65 L635.75 638.65 L637.25 637.89 L638.75 636.38 M663.5 630.35 L662.75 628.83 L660.5 628.08 L658.25 628.08 L656 628.83 L655.25 630.35 L656 631.86 L657.5 632.61 L661.25 633.37 L662.75 634.12 L663.5 635.63 L663.5 636.38 L662.75 637.89 L660.5 638.65 L658.25 638.65 L656 637.89 L655.25 636.38 M668.75 622.79 L668.75 638.65 M677.75 628.08 L676.25 628.83 L674.75 630.35 L674 632.61 L674 634.12 L674.75 636.38 L676.25 637.89 L677.75 638.65 L680 638.65 L681.5 637.89 L683 636.38 L683.75 634.12 L683.75 632.61 L683 630.35 L681.5 628.83 L680 628.08 L677.75 628.08 M689 628.08 L689 643.93 M689 630.35 L690.5 628.83 L692 628.08 L694.25 628.08 L695.75 628.83 L697.25 630.35 L698 632.61 L698 634.12 L697.25 636.38 L695.75 637.89 L694.25 638.65 L692 638.65 L690.5 637.89 L689 636.38 M702.5 632.61 L711.5 632.61 L711.5 631.1 L710.75 629.59 L710 628.83 L708.5 628.08 L706.25 628.08 L704.75 628.83 L703.25 630.35 L702.5 632.61 L702.5 634.12 L703.25 636.38 L704.75 637.89 L706.25 638.65 L708.5 638.65 L710 637.89 L711.5 636.38 M728.75 619.77 L728.75 643.93 M728.75 619.77 L734 619.77 M728.75 643.93 L734 643.93 M752 622.79 L750.5 623.55 L748.25 624.3 L746 624.3 L743.75 623.55 L742.25 622.79 L740.75 622.79 L739.25 623.55 L738.5 625.06 L738.5 626.57 L740 628.08 L741.5 628.08 L743 627.32 L743.75 625.81 L743.75 624.3 L742.25 622.79 M752 622.79 L738.5 638.65 M750.5 633.37 L749 633.37 L747.5 634.12 L746.75 635.63 L746.75 637.14 L748.25 638.65 L749.75 638.65 L751.25 637.89 L752 636.38 L752 634.88 L750.5 633.37 M769.25 619.77 L755.75 643.93 M773.75 622.79 L773.75 638.65 M773.75 631.1 L776 628.83 L777.5 628.08 L779.75 628.08 L781.25 628.83 L782 631.1 L782 638.65 M792.5 619.77 L792.5 643.93 M787.25 619.77 L792.5 619.77 M787.25 643.93 L792.5 643.93" fill="none" stroke="#000" stroke-width="3.35" stroke-linecap="butt" stroke-linejoin="miter" stroke-miterlimit="2.5"/>
<path aria-label="Prob. density" d="M501.25 539.2 L517.1 539.2 M501.25 539.2 L501.25 532.51 L502 530.27 L502.75 529.53 L504.27 528.79 L506.53 528.79 L508.04 529.53 L508.8 530.27 L509.55 532.51 L509.55 539.2 M506.53 523.58 L517.1 523.58 M511.06 523.58 L508.8 522.84 L507.29 521.35 L506.53 519.86 L506.53 517.63 M506.53 510.93 L507.29 512.42 L508.8 513.91 L511.06 514.65 L512.57 514.65 L514.84 513.91 L516.35 512.42 L517.1 510.93 L517.1 508.7 L516.35 507.21 L514.84 505.72 L512.57 504.98 L511.06 504.98 L508.8 505.72 L507.29 507.21 L506.53 508.7 L506.53 510.93 M501.25 499.77 L517.1 499.77 M508.8 499.77 L507.29 498.28 L506.53 496.8 L506.53 494.56 L507.29 493.07 L508.8 491.59 L511.06 490.84 L512.57 490.84 L514.84 491.59 L516.35 493.07 L517.1 494.56 L517.1 496.8 L516.35 498.28 L514.84 499.77 M515.59 484.89 L516.35 485.63 L517.1 484.89 L516.35 484.15 L515.59 484.89 M501.25 458.11 L517.1 458.11 M508.8 458.11 L507.29 459.6 L506.53 461.08 L506.53 463.31 L507.29 464.8 L508.8 466.29 L511.06 467.04 L512.57 467.04 L514.84 466.29 L516.35 464.8 L517.1 463.31 L517.1 461.08 L516.35 459.6 L514.84 458.11 M511.06 452.9 L511.06 443.97 L509.55 443.97 L508.04 444.72 L507.29 445.46 L506.53 446.95 L506.53 449.18 L507.29 450.67 L508.8 452.16 L511.06 452.9 L512.57 452.9 L514.84 452.16 L516.35 450.67 L517.1 449.18 L517.1 446.95 L516.35 445.46 L514.84 443.97 M506.53 438.76 L517.1 438.76 M509.55 438.76 L507.29 436.53 L506.53 435.04 L506.53 432.81 L507.29 431.32 L509.55 430.58 L517.1 430.58 M508.8 417.19 L507.29 417.93 L506.53 420.16 L506.53 422.39 L507.29 424.63 L508.8 425.37 L510.31 424.63 L511.06 423.14 L511.81 419.42 L512.57 417.93 L514.08 417.19 L514.84 417.19 L516.35 417.93 L517.1 420.16 L517.1 422.39 L516.35 424.63 L514.84 425.37 M501.25 412.72 L502 411.98 L501.25 411.24 L500.49 411.98 L501.25 412.72 M506.53 411.98 L517.1 411.98 M501.25 405.28 L514.08 405.28 L516.35 404.54 L517.1 403.05 L517.1 401.56 M506.53 407.51 L506.53 402.31 M506.53 398.59 L517.1 394.12 M506.53 389.66 L517.1 394.12 L520.12 395.61 L521.63 397.1 L522.38 398.59 L522.38 399.33" fill="none" stroke="#000" stroke-width="3.35" stroke-linecap="butt" stroke-linejoin="miter" stroke-miterlimit="2.5"/>
</g>
<g>
<rect x="582.2" y="661.6" width="223.8" height="220.4" fill="none" stroke="#000" stroke-width="3.9" stroke-linejoin="bevel"/>
<path d="M587.3 882v-4.6 M587.3 661.6v4.6 M658.55 882v-4.6 M658.55 661.6v4.6 M729.8 882v-4.6 M729.8 661.6v4.6 M801.05 882v-4.6 M801.05 661.6v4.6 M601.55 882v-2.3 M601.55 661.6v2.3 M615.8 882v-2.3 M615.8 661.6v2.3 M630.05 882v-2.3 M630.05 661.6v2.3 M644.3 882v-2.3 M644.3 661.6v2.3 M672.8 882v-2.3 M672.8 661.6v2.3 M687.05 882v-2.3 M687.05 661.6v2.3 M701.3 882v-2.3 M701.3 661.6v2.3 M715.55 882v-2.3 M715.55 661.6v2.3 M744.05 882v-2.3 M744.05 661.6v2.3 M758.3 882v-2.3 M758.3 661.6v2.3 M772.55 882v-2.3 M772.55 661.6v2.3 M786.8 882v-2.3 M786.8 661.6v2.3 M582.2 845.27h4.6 M806 845.27h-4.6 M582.2 808.53h4.6 M806 808.53h-4.6 M582.2 771.8h4.6 M806 771.8h-4.6 M582.2 735.07h4.6 M806 735.07h-4.6 M582.2 698.33h4.6 M806 698.33h-4.6 M582.2 874.65h2.3 M806 874.65h-2.3 M582.2 867.31h2.3 M806 867.31h-2.3 M582.2 859.96h2.3 M806 859.96h-2.3 M582.2 852.61h2.3 M806 852.61h-2.3 M582.2 837.92h2.3 M806 837.92h-2.3 M582.2 830.57h2.3 M806 830.57h-2.3 M582.2 823.23h2.3 M806 823.23h-2.3 M582.2 815.88h2.3 M806 815.88h-2.3 M582.2 801.19h2.3 M806 801.19h-2.3 M582.2 793.84h2.3 M806 793.84h-2.3 M582.2 786.49h2.3 M806 786.49h-2.3 M582.2 779.15h2.3 M806 779.15h-2.3 M582.2 764.45h2.3 M806 764.45h-2.3 M582.2 757.11h2.3 M806 757.11h-2.3 M582.2 749.76h2.3 M806 749.76h-2.3 M582.2 742.41h2.3 M806 742.41h-2.3 M582.2 727.72h2.3 M806 727.72h-2.3 M582.2 720.37h2.3 M806 720.37h-2.3 M582.2 713.03h2.3 M806 713.03h-2.3 M582.2 705.68h2.3 M806 705.68h-2.3 M582.2 690.99h2.3 M806 690.99h-2.3 M582.2 683.64h2.3 M806 683.64h-2.3 M582.2 676.29h2.3 M806 676.29h-2.3 M582.2 668.95h2.3 M806 668.95h-2.3" stroke="#000" stroke-width="3.4" fill="none"/>
<path d="M587.3 698.33 L590.03 701.82 L592.77 705.25 L595.5 708.61 L598.23 711.9 L600.97 715.13 L603.7 718.3 L606.44 721.41 L609.17 724.46 L611.9 727.46 L614.64 730.39 L617.37 733.28 L620.11 736.1 L622.84 738.87 L625.57 741.59 L628.31 744.26 L631.04 746.88 L633.77 749.45 L636.51 751.96 L639.24 754.44 L641.97 756.86 L644.71 759.24 L647.44 761.57 L650.18 763.86 L652.91 766.1 L655.64 768.31 L658.38 770.47 L661.11 772.58 L663.85 774.66 L666.58 776.7 L669.31 778.7 L672.05 780.67 L674.78 782.59 L677.51 784.48 L680.25 786.33 L682.98 788.15 L685.71 789.94 L688.45 791.68 L691.18 793.4 L693.92 795.08 L696.65 796.74 L699.38 798.36 L702.12 799.95 L704.85 801.5 L707.58 803.03 L710.32 804.53 L713.05 806.01 L715.79 807.45 L718.52 808.87 L721.25 810.26 L723.99 811.62 L726.72 812.96 L729.45 814.27 L732.19 815.56 L734.92 816.82 L737.66 818.06 L740.39 819.27 L743.12 820.46 L745.86 821.63 L748.59 822.78 L751.33 823.91 L754.06 825.01 L756.79 826.09 L759.53 827.15 L762.26 828.2 L764.99 829.22 L767.73 830.22 L770.46 831.21 L773.19 832.17 L775.93 833.12 L778.66 834.05 L781.4 834.96 L784.13 835.85 L786.86 836.73 L789.6 837.59 L792.33 838.43 L795.06 839.26 L797.8 840.07 L800.53 840.87 L803.27 841.65 L806 842.42" stroke="#ff0000" stroke-width="1.1" stroke-dasharray="12.71 12.71" fill="none"/>
<path d="M587.3 698.33 L590.03 705.25 L592.77 711.9 L595.5 718.3 L598.23 724.46 L600.97 730.39 L603.7 736.1 L606.44 741.59 L609.17 746.88 L611.9 751.96 L614.64 756.86 L617.37 761.57 L620.11 766.1 L622.84 770.47 L625.57 774.66 L628.31 778.7 L631.04 782.59 L633.77 786.33 L636.51 789.94 L639.24 793.4 L641.97 796.74 L644.71 799.95 L647.44 803.03 L650.18 806.01 L652.91 808.87 L655.64 811.62 L658.38 814.27 L661.11 816.82 L663.85 819.27 L666.58 821.63 L669.31 823.91 L672.05 826.09 L674.78 828.2 L677.51 830.22 L680.25 832.17 L682.98 834.05 L685.71 835.85 L688.45 837.59 L691.18 839.26 L693.92 840.87 L696.65 842.42 L699.38 843.91 L702.12 845.34 L704.85 846.72 L707.58 848.05 L710.32 849.33 L713.05 850.56 L715.79 851.74 L718.52 852.88 L721.25 853.98 L723.99 855.03 L726.72 856.05 L729.45 857.02 L732.19 857.96 L734.92 858.87 L737.66 859.74 L740.39 860.58 L743.12 861.38 L745.86 862.16 L748.59 862.91 L751.33 863.62 L754.06 864.32 L756.79 864.98 L759.53 865.62 L762.26 866.24 L764.99 866.83 L767.73 867.4 L770.46 867.95 L773.19 868.48 L775.93 868.99 L778.66 869.48 L781.4 869.95 L784.13 870.4 L786.86 870.84 L789.6 871.26 L792.33 871.67 L795.06 872.05 L797.8 872.43 L800.53 872.79 L803.27 873.14 L806 873.47" stroke="#0000ff" stroke-width="1.1" stroke-dasharray="13.01 13.01" fill="none"/>
<path transform="scale(0.8,1)" d="M734.12 881.99 L741.25 881.98 L748.37 881.94 L755.5 881.82 L762.62 881.55 L769.75 880.91 L776.88 879.58 L784 876.97 L791.12 872.26 L798.25 864.42 L805.37 852.39 L812.5 835.41 L819.62 813.47 L826.75 787.64 L833.87 760.24 L841 734.53 L848.12 714.04 L855.25 701.61 L862.37 698.39 L869.5 703.86 L876.62 718.49 L883.75 740.6 L890.87 767.07 L898 794.35 L905.12 819.38 L912.25 840.14 L919.38 855.84 L926.5 866.73 L933.62 873.69 L940.75 877.78 L947.87 880 L955 881.12 L962.12 881.64 L969.25 881.86 L976.37 881.95 L983.5 881.98 L990.62 882 L997.75 882 L1004.87 882 L1007.5 882" stroke="#000" stroke-width="2.75" stroke-linejoin="round" fill="none"/>
<path transform="scale(0.8,1)" d="M734.12 881.98 L735.91 881.98 L743.03 881.94 L750.16 881.82 L757.28 881.55 L764.41 880.91 L771.53 879.58 L778.66 876.97 L785.78 872.26 L792.91 864.42 L800.03 852.39 L807.16 835.41 L814.28 813.47 L821.41 787.64 L828.53 760.24 L835.66 734.53 L842.78 714.04 L849.91 701.61 L857.03 698.39 L864.16 703.86 L871.28 718.49 L878.41 740.6 L885.53 767.07 L892.66 794.35 L899.78 819.38 L906.91 840.14 L914.03 855.84 L921.16 866.73 L928.28 873.69 L935.41 877.78 L942.53 880 L949.66 881.12 L956.78 881.64 L963.91 881.86 L971.03 881.95 L978.16 881.98 L985.28 882 L992.41 882 L999.53 882 L1006.66 882 L1007.5 882" stroke="#ff0000" stroke-width="1.7" stroke-linejoin="round" fill="none"/>
<path transform="scale(0.8,1)" d="M734.12 881.97 L737.69 881.94 L744.81 881.84 L751.94 881.58 L759.06 880.99 L766.19 879.73 L773.31 877.26 L780.44 872.78 L787.56 865.26 L794.69 853.63 L801.81 837.1 L808.94 815.57 L816.06 790 L823.19 762.62 L830.31 736.62 L837.44 715.54 L844.56 702.33 L851.69 698.34 L858.81 703 L865.94 716.88 L873.06 738.44 L880.19 764.67 L887.31 792.02 L894.44 817.34 L901.56 838.52 L908.69 854.67 L915.81 865.95 L922.94 873.21 L930.06 877.51 L937.19 879.86 L944.31 881.05 L951.44 881.61 L958.56 881.85 L965.69 881.95 L972.81 881.98 L979.94 881.99 L987.06 882 L994.19 882 L1001.31 882 L1007.5 882" stroke="#0000ff" stroke-width="1.85" stroke-linejoin="round" fill="none"/>
<path aria-label="1.2" d="M541.4 664.37 L542.9 663.61 L545.15 661.35 L545.15 677.2 M555.65 675.69 L554.9 676.45 L555.65 677.2 L556.4 676.45 L555.65 675.69 M562.4 665.12 L562.4 664.37 L563.15 662.86 L563.9 662.1 L565.4 661.35 L568.4 661.35 L569.9 662.1 L570.65 662.86 L571.4 664.37 L571.4 665.88 L570.65 667.38 L569.15 669.65 L561.65 677.2 L572.15 677.2" fill="none" stroke="#000" stroke-width="3.35" stroke-linecap="butt" stroke-linejoin="miter" stroke-miterlimit="2.5"/>
<path aria-label="1.0" d="M541.4 694.8 L542.9 694.04 L545.15 691.78 L545.15 707.63 M555.65 706.12 L554.9 706.88 L555.65 707.63 L556.4 706.88 L555.65 706.12 M566.15 691.78 L563.9 692.53 L562.4 694.8 L561.65 698.57 L561.65 700.84 L562.4 704.61 L563.9 706.88 L566.15 707.63 L567.65 707.63 L569.9 706.88 L571.4 704.61 L572.15 700.84 L572.15 698.57 L571.4 694.8 L569.9 692.53 L567.65 691.78 L566.15 691.78" fill="none" stroke="#000" stroke-width="3.35" stroke-linecap="butt" stroke-linejoin="miter" stroke-miterlimit="2.5"/>
<path aria-label="0.8" d="M543.65 728.51 L541.4 729.27 L539.9 731.53 L539.15 735.31 L539.15 737.57 L539.9 741.35 L541.4 743.61 L543.65 744.37 L545.15 744.37 L547.4 743.61 L548.9 741.35 L549.65 737.57 L549.65 735.31 L548.9 731.53 L547.4 729.27 L545.15 728.51 L543.65 728.51 M555.65 742.86 L554.9 743.61 L555.65 744.37 L556.4 743.61 L555.65 742.86 M565.4 728.51 L563.15 729.27 L562.4 730.78 L562.4 732.29 L563.15 733.8 L564.65 734.55 L567.65 735.31 L569.9 736.06 L571.4 737.57 L572.15 739.08 L572.15 741.35 L571.4 742.86 L570.65 743.61 L568.4 744.37 L565.4 744.37 L563.15 743.61 L562.4 742.86 L561.65 741.35 L561.65 739.08 L562.4 737.57 L563.9 736.06 L566.15 735.31 L569.15 734.55 L570.65 733.8 L571.4 732.29 L571.4 730.78 L570.65 729.27 L568.4 728.51 L565.4 728.51" fill="none" stroke="#000" stroke-width="3.35" stroke-linecap="butt" stroke-linejoin="miter" stroke-miterlimit="2.5"/>
<path aria-label="0.6" d="M543.65 765.24 L541.4 766 L539.9 768.26 L539.15 772.04 L539.15 774.3 L539.9 778.08 L541.4 780.34 L543.65 781.1 L545.15 781.1 L547.4 780.34 L548.9 778.08 L549.65 774.3 L549.65 772.04 L548.9 768.26 L547.4 766 L545.15 765.24 L543.65 765.24 M555.65 779.59 L554.9 780.34 L555.65 781.1 L556.4 780.34 L555.65 779.59 M571.4 767.51 L570.65 766 L568.4 765.24 L566.9 765.24 L564.65 766 L563.15 768.26 L562.4 772.04 L562.4 775.81 L563.15 778.83 L564.65 780.34 L566.9 781.1 L567.65 781.1 L569.9 780.34 L571.4 778.83 L572.15 776.57 L572.15 775.81 L571.4 773.55 L569.9 772.04 L567.65 771.28 L566.9 771.28 L564.65 772.04 L563.15 773.55 L562.4 775.81" fill="none" stroke="#000" stroke-width="3.35" stroke-linecap="butt" stroke-linejoin="miter" stroke-miterlimit="2.5"/>
<path aria-label="0.4" d="M543.65 801.98 L541.4 802.73 L539.9 805 L539.15 808.77 L539.15 811.04 L539.9 814.81 L541.4 817.08 L543.65 817.83 L545.15 817.83 L547.4 817.08 L548.9 814.81 L549.65 811.04 L549.65 808.77 L548.9 805 L547.4 802.73 L545.15 801.98 L543.65 801.98 M555.65 816.32 L554.9 817.08 L555.65 817.83 L556.4 817.08 L555.65 816.32 M569.15 801.98 L561.65 812.55 L572.9 812.55 M569.15 801.98 L569.15 817.83" fill="none" stroke="#000" stroke-width="3.35" stroke-linecap="butt" stroke-linejoin="miter" stroke-miterlimit="2.5"/>
<path aria-label="0.2" d="M543.65 838.71 L541.4 839.47 L539.9 841.73 L539.15 845.51 L539.15 847.77 L539.9 851.55 L541.4 853.81 L543.65 854.57 L545.15 854.57 L547.4 853.81 L548.9 851.55 L549.65 847.77 L549.65 845.51 L548.9 841.73 L547.4 839.47 L545.15 838.71 L543.65 838.71 M555.65 853.06 L554.9 853.81 L555.65 854.57 L556.4 853.81 L555.65 853.06 M562.4 842.49 L562.4 841.73 L563.15 840.22 L563.9 839.47 L565.4 838.71 L568.4 838.71 L569.9 839.47 L570.65 840.22 L571.4 841.73 L571.4 843.24 L570.65 844.75 L569.15 847.02 L561.65 854.57 L572.15 854.57" fill="none" stroke="#000" stroke-width="3.35" stroke-linecap="butt" stroke-linejoin="miter" stroke-miterlimit="2.5"/>
<path aria-label="0.0" d="M543.65 866.35 L541.4 867.1 L539.9 869.37 L539.15 873.14 L539.15 875.41 L539.9 879.18 L541.4 881.45 L543.65 882.2 L545.15 882.2 L547.4 881.45 L548.9 879.18 L549.65 875.41 L549.65 873.14 L548.9 869.37 L547.4 867.1 L545.15 866.35 L543.65 866.35 M555.65 880.69 L554.9 881.45 L555.65 882.2 L556.4 881.45 L555.65 880.69 M566.15 866.35 L563.9 867.1 L562.4 869.37 L561.65 873.14 L561.65 875.41 L562.4 879.18 L563.9 881.45 L566.15 882.2 L567.65 882.2 L569.9 881.45 L571.4 879.18 L572.15 875.41 L572.15 873.14 L571.4 869.37 L569.9 867.1 L567.65 866.35 L566.15 866.35" fill="none" stroke="#000" stroke-width="3.35" stroke-linecap="butt" stroke-linejoin="miter" stroke-miterlimit="2.5"/>
<path aria-label="0" d="M585.95 900 L583.7 900.75 L582.2 903.01 L581.45 906.79 L581.45 909.06 L582.2 912.83 L583.7 915.1 L585.95 915.85 L587.45 915.85 L589.7 915.1 L591.2 912.83 L591.95 909.06 L591.95 906.79 L591.2 903.01 L589.7 900.75 L587.45 900 L585.95 900" fill="none" stroke="#000" stroke-width="3.35" stroke-linecap="butt" stroke-linejoin="miter" stroke-miterlimit="2.5"/>
<path aria-label="1" d="M654.95 903.01 L656.45 902.26 L658.7 900 L658.7 915.85" fill="none" stroke="#000" stroke-width="3.35" stroke-linecap="butt" stroke-linejoin="miter" stroke-miterlimit="2.5"/>
<path aria-label="2" d="M724.7 903.77 L724.7 903.01 L725.45 901.5 L726.2 900.75 L727.7 900 L730.7 900 L732.2 900.75 L732.95 901.5 L733.7 903.01 L733.7 904.52 L732.95 906.03 L731.45 908.3 L723.95 915.85 L734.45 915.85" fill="none" stroke="#000" stroke-width="3.35" stroke-linecap="butt" stroke-linejoin="miter" stroke-miterlimit="2.5"/>
<path aria-label="3" d="M796.7 900 L804.95 900 L800.45 906.03 L802.7 906.03 L804.2 906.79 L804.95 907.55 L805.7 909.81 L805.7 911.32 L804.95 913.59 L803.45 915.1 L801.2 915.85 L798.95 915.85 L796.7 915.1 L795.95 914.34 L795.2 912.83" fill="none" stroke="#000" stroke-width="3.35" stroke-linecap="butt" stroke-linejoin="miter" stroke-miterlimit="2.5"/>
<path aria-label="True slope [%/h]" d="M597.5 929.75 L597.5 945.6 M592.25 929.75 L602.75 929.75 M606.5 935.03 L606.5 945.6 M606.5 939.56 L607.25 937.3 L608.75 935.78 L610.25 935.03 L612.5 935.03 M616.25 935.03 L616.25 942.58 L617 944.85 L618.5 945.6 L620.75 945.6 L622.25 944.85 L624.5 942.58 M624.5 935.03 L624.5 945.6 M629.75 939.56 L638.75 939.56 L638.75 938.05 L638 936.54 L637.25 935.78 L635.75 935.03 L633.5 935.03 L632 935.78 L630.5 937.3 L629.75 939.56 L629.75 941.07 L630.5 943.34 L632 944.85 L633.5 945.6 L635.75 945.6 L637.25 944.85 L638.75 943.34 M663.5 937.3 L662.75 935.78 L660.5 935.03 L658.25 935.03 L656 935.78 L655.25 937.3 L656 938.81 L657.5 939.56 L661.25 940.32 L662.75 941.07 L663.5 942.58 L663.5 943.34 L662.75 944.85 L660.5 945.6 L658.25 945.6 L656 944.85 L655.25 943.34 M668.75 929.75 L668.75 945.6 M677.75 935.03 L676.25 935.78 L674.75 937.3 L674 939.56 L674 941.07 L674.75 943.34 L676.25 944.85 L677.75 945.6 L680 945.6 L681.5 944.85 L683 943.34 L683.75 941.07 L683.75 939.56 L683 937.3 L681.5 935.78 L680 935.03 L677.75 935.03 M689 935.03 L689 950.88 M689 937.3 L690.5 935.78 L692 935.03 L694.25 935.03 L695.75 935.78 L697.25 937.3 L698 939.56 L698 941.07 L697.25 943.34 L695.75 944.85 L694.25 945.6 L692 945.6 L690.5 944.85 L689 943.34 M702.5 939.56 L711.5 939.56 L711.5 938.05 L710.75 936.54 L710 935.78 L708.5 935.03 L706.25 935.03 L704.75 935.78 L703.25 937.3 L702.5 939.56 L702.5 941.07 L703.25 943.34 L704.75 944.85 L706.25 945.6 L708.5 945.6 L710 944.85 L711.5 943.34 M728.75 926.73 L728.75 950.88 M728.75 926.73 L734 926.73 M728.75 950.88 L734 950.88 M752 929.75 L750.5 930.5 L748.25 931.25 L746 931.25 L743.75 930.5 L742.25 929.75 L740.75 929.75 L739.25 930.5 L738.5 932.01 L738.5 933.52 L740 935.03 L741.5 935.03 L743 934.27 L743.75 932.76 L743.75 931.25 L742.25 929.75 M752 929.75 L738.5 945.6 M750.5 940.32 L749 940.32 L747.5 941.07 L746.75 942.58 L746.75 944.09 L748.25 945.6 L749.75 945.6 L751.25 944.85 L752 943.34 L752 941.83 L750.5 940.32 M769.25 926.73 L755.75 950.88 M773.75 929.75 L773.75 945.6 M773.75 938.05 L776 935.78 L777.5 935.03 L779.75 935.03 L781.25 935.78 L782 938.05 L782 945.6 M792.5 926.73 L792.5 950.88 M787.25 926.73 L792.5 926.73 M787.25 950.88 L792.5 950.88" fill="none" stroke="#000" stroke-width="3.35" stroke-linecap="butt" stroke-linejoin="miter" stroke-miterlimit="2.5"/>
<path aria-label="Prob. density" d="M501.25 846.13 L517.1 846.13 M501.25 846.13 L501.25 839.43 L502 837.2 L502.75 836.46 L504.27 835.71 L506.53 835.71 L508.04 836.46 L508.8 837.2 L509.55 839.43 L509.55 846.13 M506.53 830.5 L517.1 830.5 M511.06 830.5 L508.8 829.76 L507.29 828.27 L506.53 826.78 L506.53 824.55 M506.53 817.86 L507.29 819.34 L508.8 820.83 L511.06 821.58 L512.57 821.58 L514.84 820.83 L516.35 819.34 L517.1 817.86 L517.1 815.62 L516.35 814.14 L514.84 812.65 L512.57 811.9 L511.06 811.9 L508.8 812.65 L507.29 814.14 L506.53 815.62 L506.53 817.86 M501.25 806.7 L517.1 806.7 M508.8 806.7 L507.29 805.21 L506.53 803.72 L506.53 801.49 L507.29 800 L508.8 798.51 L511.06 797.77 L512.57 797.77 L514.84 798.51 L516.35 800 L517.1 801.49 L517.1 803.72 L516.35 805.21 L514.84 806.7 M515.59 791.82 L516.35 792.56 L517.1 791.82 L516.35 791.07 L515.59 791.82 M501.25 765.03 L517.1 765.03 M508.8 765.03 L507.29 766.52 L506.53 768.01 L506.53 770.24 L507.29 771.73 L508.8 773.22 L511.06 773.96 L512.57 773.96 L514.84 773.22 L516.35 771.73 L517.1 770.24 L517.1 768.01 L516.35 766.52 L514.84 765.03 M511.06 759.82 L511.06 750.9 L509.55 750.9 L508.04 751.64 L507.29 752.38 L506.53 753.87 L506.53 756.1 L507.29 757.59 L508.8 759.08 L511.06 759.82 L512.57 759.82 L514.84 759.08 L516.35 757.59 L517.1 756.1 L517.1 753.87 L516.35 752.38 L514.84 750.9 M506.53 745.69 L517.1 745.69 M509.55 745.69 L507.29 743.46 L506.53 741.97 L506.53 739.74 L507.29 738.25 L509.55 737.5 L517.1 737.5 M508.8 724.11 L507.29 724.86 L506.53 727.09 L506.53 729.32 L507.29 731.55 L508.8 732.3 L510.31 731.55 L511.06 730.06 L511.81 726.34 L512.57 724.86 L514.08 724.11 L514.84 724.11 L516.35 724.86 L517.1 727.09 L517.1 729.32 L516.35 731.55 L514.84 732.3 M501.25 719.65 L502 718.9 L501.25 718.16 L500.49 718.9 L501.25 719.65 M506.53 718.9 L517.1 718.9 M501.25 712.21 L514.08 712.21 L516.35 711.46 L517.1 709.98 L517.1 708.49 M506.53 714.44 L506.53 709.23 M506.53 705.51 L517.1 701.05 M506.53 696.58 L517.1 701.05 L520.12 702.54 L521.63 704.02 L522.38 705.51 L522.38 706.26" fill="none" stroke="#000" stroke-width="3.35" stroke-linecap="butt" stroke-linejoin="miter" stroke-miterlimit="2.5"/>
</g>
</svg>
</body>
</html>
